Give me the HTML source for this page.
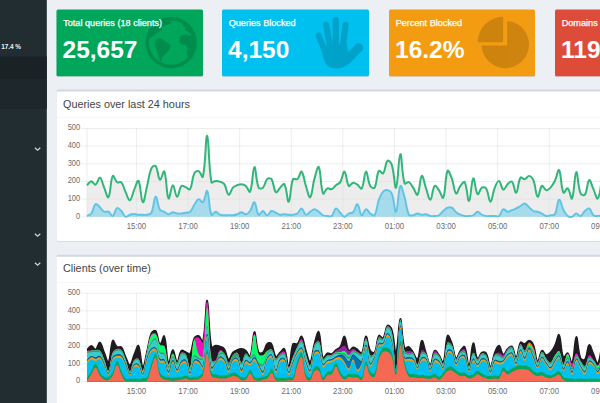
<!DOCTYPE html>
<html>
<head>
<meta charset="utf-8">
<title>Pi-hole Admin Console</title>
<style>
html,body{margin:0;padding:0;}
body{width:600px;height:403px;overflow:hidden;position:relative;background:#ecf0f5;font-family:"Liberation Sans",sans-serif;}
.sidebar{position:absolute;left:0;top:0;width:47px;height:403px;}
.sb-head{position:absolute;left:0;top:57px;width:47px;height:23px;}
.sb-act{position:absolute;left:0;top:80px;width:47px;height:29px;}
.sb-txt{position:absolute;left:1.2px;top:42px;font-size:6.4px;font-weight:bold;color:#f4f4f4;line-height:9px;white-space:nowrap;letter-spacing:-0.05px;}
.chev{position:absolute;left:33px;width:9px;height:6px;}
.box{position:absolute;top:9px;height:67.5px;width:146.5px;color:#fff;overflow:hidden;background:none !important;}
.box p{position:absolute;left:6.7px;top:8.5px;margin:0;font-size:9.15px;line-height:11px;white-space:nowrap;-webkit-text-stroke:0.25px #fff;}
.box h3{position:absolute;left:6px;top:26.5px;margin:0;font-size:24.5px;line-height:28px;font-weight:bold;white-space:nowrap;transform-origin:0 50%;}
.box svg{position:absolute;left:0;top:0;}
.panel{position:absolute;left:56.5px;width:560px;border-top:2px solid transparent;}
.panel .hd{height:25px;position:relative;}
.panel .hd span{position:absolute;left:6.8px;top:6.3px;font-size:11.3px;line-height:13px;color:#444;white-space:nowrap;transform:scaleX(0.958);transform-origin:0 50%;}
.charts{position:absolute;left:0;top:0;}
</style>
</head>
<body>
<svg class="bgl" width="600" height="403" viewBox="0 0 600 403" style="position:absolute;left:0;top:0">
  <rect x="0" y="0" width="46.8" height="403" fill="#222d32"/>
  <rect x="0" y="56.5" width="46.8" height="23" fill="#1a2226"/>
  <rect x="0" y="79.5" width="46.8" height="29.3" fill="#1e282c"/>
  <g>
    <rect x="56.5" y="10.3" width="146.5" height="66.6" rx="1.5" fill="#000" fill-opacity="0.1"/>
    <rect x="222" y="10.3" width="147" height="66.6" rx="1.5" fill="#000" fill-opacity="0.1"/>
    <rect x="389" y="10.3" width="146" height="66.6" rx="1.5" fill="#000" fill-opacity="0.1"/>
    <rect x="555" y="10.3" width="146" height="66.6" rx="1.5" fill="#000" fill-opacity="0.1"/>
    <rect x="56.5" y="9.5" width="146.5" height="66.7" rx="1.5" fill="#00a65a"/>
    <rect x="222" y="9.5" width="147" height="66.7" rx="1.5" fill="#00c0ef"/>
    <rect x="389" y="9.5" width="146" height="66.7" rx="1.5" fill="#f39c12"/>
    <rect x="555" y="9.5" width="146" height="66.7" rx="1.5" fill="#dd4b39"/>
  </g>
  <g>
    <rect x="56.5" y="90" width="600" height="151.8" rx="2" fill="#000" fill-opacity="0.1"/>
    <rect x="56.5" y="89.5" width="600" height="151.5" rx="2" fill="#d2d6de"/>
    <path d="M56.5 91.5 H660 V241 H58.5 a2 2 0 0 1 -2 -2 Z" fill="#fff"/>
    <rect x="56.5" y="116.8" width="600" height="0.8" fill="#f4f4f4"/>
    <rect x="56.5" y="254.7" width="600" height="160" rx="2" fill="#d2d6de"/>
    <path d="M56.5 256.7 H660 V420 H56.5 Z" fill="#fff"/>
    <rect x="56.5" y="282" width="600" height="0.8" fill="#f4f4f4"/>
  </g>
</svg>
<div class="sidebar">
  <div class="sb-head"></div>
  <div class="sb-act"></div>
  <div class="sb-txt">17.4 %</div>
  <svg class="chev" style="top:146px" viewBox="0 0 9 6"><path d="M1.9 1.7 L4.6 4.2 L7.3 1.7" fill="none" stroke="#dfe9f0" stroke-width="1.2" stroke-opacity="0.9"/></svg>
  <svg class="chev" style="top:232px" viewBox="0 0 9 6"><path d="M1.9 1.7 L4.6 4.2 L7.3 1.7" fill="none" stroke="#dfe9f0" stroke-width="1.2" stroke-opacity="0.9"/></svg>
  <svg class="chev" style="top:261px" viewBox="0 0 9 6"><path d="M1.9 1.7 L4.6 4.2 L7.3 1.7" fill="none" stroke="#dfe9f0" stroke-width="1.2" stroke-opacity="0.9"/></svg>
</div>

<div class="box" style="left:56px;background:#00a65a;">
  <svg width="146" height="66" viewBox="56 9 146 66">
    <g opacity="0.15" fill="#000">
      <path fill-rule="evenodd" d="M171.2 17.0 a25.6 25.6 0 1 0 0.01 0 Z M171.2 20.4 a22.2 22.2 0 1 1 -0.01 0 Z"/>
      <path d="M155.5 40.2 L158.5 38 L162.3 38.7 L165.3 41.7 L169.8 44 L170.5 47.7 L167.5 52.2 L164.5 54.5 L162.3 57.5 L160.8 61.5 L159.2 59.7 L157.7 53 L155.5 47 L154.7 43.2 Z"/>
      <path d="M181.8 35 L179.5 38 L179.2 41.7 L181.8 44.7 L185.8 44.7 L187.7 48.5 L186.7 53 L188.2 58.5 L192 54 L194.5 47 L194.5 38 L193 34.5 L190 35.7 L185.5 34.2 Z"/>
      <path d="M182.5 25.5 L185.8 27.5 L184.7 30.2 L187.7 31.5 L191.5 34.7 L193.5 35 L190 27 L185 22.5 Z"/>
      <path d="M150.5 38 L154 35.7 L156.2 33.2 L159.2 32 L162.2 29 L160.7 27.2 L165.2 25.2 L169.3 24.2 L172 22.2 L167.5 19.5 L160 21 L153 27 L149.5 34 Z"/>
    </g>
  </svg>
  <p style="left:7.2px">Total queries (18 clients)</p>
  <h3 style="left:6.5px">25,657</h3>
</div>
<div class="box" style="left:222px;width:147px;background:#00c0ef;">
  <svg width="146" height="66" viewBox="222 9 146 66"><g opacity="0.15" fill="#000" stroke="#000" stroke-linecap="round" stroke-linejoin="round">
      <path d="M318.7 35.6 L325.5 53" stroke-width="6" fill="none"/>
      <path d="M326.2 24.6 L330.2 48" stroke-width="6.2" fill="none"/>
      <path d="M335.8 20.1 L335.8 48" stroke-width="6.3" fill="none"/>
      <path d="M345.6 24.8 L342.6 48" stroke-width="6.2" fill="none"/>
      <path d="M358.6 47.8 L346.5 60" stroke-width="9" fill="none"/>
      <path d="M323 46 L346 44 L347.5 52 L352 58 C347.5 64.5 343.5 67.8 336 67.8 C327 67.8 324.5 61 322.8 52 Z" stroke-width="1.5"/>
    </g></svg>
  <p>Queries Blocked</p>
  <h3>4,150</h3>
</div>
<div class="box" style="left:389px;width:146px;background:#f39c12;">
  <svg width="146" height="66" viewBox="389 9 146 66">
    <g fill="#000" opacity="0.15">
      <path d="M507.2 45.5 L507.2 20.88 A23.7 23.7 0 1 1 481.62 45.5 Z"/>
      <path d="M503.2 42.2 L477.7 42.2 A25.5 25.5 0 0 1 503.2 16.7 Z"/>
    </g>
  </svg>
  <p>Percent Blocked</p>
  <h3>16.2%</h3>
</div>
<div class="box" style="left:555px;background:#dd4b39;">
  <p>Domains on Blocklist</p>
  <h3>119,</h3>
</div>

<div class="panel" style="top:89.5px;height:149.5px;">
  <div class="hd"><span>Queries over last 24 hours</span></div>
</div>
<div class="panel" style="top:254.7px;height:160px;">
  <div class="hd"><span style="top:5.3px">Clients (over time)</span></div>
</div>

<svg class="charts" width="600" height="403" viewBox="0 0 600 403"><defs><clipPath id="cp1"><rect x="86.3" y="120" width="520" height="97"/></clipPath><clipPath id="cp2"><rect x="86.6" y="285" width="520" height="96.8"/></clipPath></defs><g stroke="#000" stroke-opacity="0.1" stroke-width="0.7" shape-rendering="auto"><line x1="81" x2="610" y1="216.80" y2="216.80"/><line x1="81" x2="610" y1="199.14" y2="199.14"/><line x1="81" x2="610" y1="181.48" y2="181.48"/><line x1="81" x2="610" y1="163.82" y2="163.82"/><line x1="81" x2="610" y1="146.16" y2="146.16"/><line x1="81" x2="610" y1="128.50" y2="128.50"/><line x1="87" x2="87" y1="128.50" y2="216.80"/><line x1="136.45" x2="136.45" y1="128.50" y2="222.80"/><line x1="188.05" x2="188.05" y1="128.50" y2="222.80"/><line x1="239.65" x2="239.65" y1="128.50" y2="222.80"/><line x1="291.25" x2="291.25" y1="128.50" y2="222.80"/><line x1="342.85" x2="342.85" y1="128.50" y2="222.80"/><line x1="394.45" x2="394.45" y1="128.50" y2="222.80"/><line x1="446.05" x2="446.05" y1="128.50" y2="222.80"/><line x1="497.65" x2="497.65" y1="128.50" y2="222.80"/><line x1="549.25" x2="549.25" y1="128.50" y2="222.80"/><line x1="600.85" x2="600.85" y1="128.50" y2="222.80"/></g><path d="M87.00,185.16 C88.72,183.55 89.53,181.25 91.29,181.15 C92.96,181.05 94.20,185.22 95.58,184.66 C97.64,183.82 98.40,177.12 99.88,177.64 C101.83,178.32 102.41,183.67 104.17,187.66 C105.85,191.49 107.35,198.72 108.46,197.19 C110.78,194.01 110.21,180.34 112.75,175.88 C113.64,174.33 114.85,180.49 117.04,182.15 C118.29,183.09 120.35,181.25 121.34,182.40 C123.78,185.26 123.77,188.33 125.63,192.18 C127.21,195.45 128.39,200.64 129.92,200.20 C131.83,199.64 132.37,193.82 134.21,189.67 C135.80,186.10 137.44,179.34 138.50,180.90 C140.87,184.36 140.86,201.07 142.80,202.20 C144.30,203.08 145.43,192.44 147.09,185.91 C148.86,178.91 148.67,174.61 151.38,168.37 C152.11,166.69 154.80,164.96 155.67,166.11 C158.23,169.47 157.89,178.37 159.96,179.64 C161.32,180.48 163.38,169.47 164.26,171.37 C166.82,176.98 166.27,194.79 168.55,198.44 C169.71,200.30 171.01,185.53 172.84,185.16 C174.45,184.83 175.36,196.53 177.13,196.69 C178.80,196.83 178.95,188.66 181.42,185.91 C182.38,184.85 184.05,186.53 185.72,187.16 C187.48,187.83 189.24,190.41 190.01,189.17 C192.67,184.89 191.65,178.95 194.30,173.38 C195.08,171.73 197.19,170.59 198.59,171.12 C200.62,171.89 202.38,178.69 202.88,176.64 C205.82,164.56 205.57,134.75 207.18,135.78 C209.00,136.96 208.34,165.69 211.47,182.15 C211.77,183.73 214.02,181.00 215.76,180.90 C217.45,180.80 218.45,181.04 220.05,181.65 C221.88,182.34 223.30,182.57 224.34,184.16 C226.73,187.78 226.64,193.87 228.64,194.68 C230.08,195.27 230.79,190.04 232.93,187.66 C234.22,186.23 235.40,185.90 237.22,185.16 C238.83,184.50 239.84,184.01 241.51,184.16 C243.27,184.31 244.46,184.73 245.80,185.91 C247.89,187.74 249.33,193.36 250.10,191.67 C252.76,185.84 252.52,167.98 254.39,167.11 C255.96,166.38 255.83,180.84 258.68,187.66 C259.26,189.06 261.92,188.74 262.97,187.66 C265.36,185.23 264.88,181.26 267.26,178.89 C268.31,177.85 270.74,177.88 271.56,179.14 C274.17,183.19 273.49,189.83 275.85,192.18 C276.92,193.24 278.32,189.36 280.14,187.66 C281.76,186.15 283.63,182.84 284.43,184.16 C287.06,188.45 287.21,202.58 288.72,201.70 C290.65,200.58 290.12,186.74 293.02,179.14 C293.56,177.72 296.17,180.14 297.31,179.14 C299.60,177.13 300.34,170.63 301.60,171.62 C303.77,173.34 303.99,180.26 305.89,185.91 C307.43,190.48 308.86,198.35 310.18,197.19 C312.30,195.34 312.36,185.79 314.48,178.39 C315.80,173.76 317.70,165.24 318.77,167.11 C321.13,171.25 320.31,186.60 323.06,193.43 C323.74,195.12 325.28,189.44 327.35,188.42 C328.72,187.74 330.18,189.72 331.64,189.17 C333.62,188.42 334.12,186.64 335.94,185.16 C337.56,183.83 339.14,183.86 340.23,182.15 C342.58,178.45 343.03,170.97 344.52,171.62 C346.47,172.48 346.29,182.67 348.81,185.91 C349.72,187.08 351.28,182.92 353.10,182.65 C354.71,182.42 355.84,183.61 357.40,184.66 C359.27,185.92 360.84,189.71 361.69,188.42 C364.27,184.49 364.13,172.16 365.98,171.62 C367.57,171.16 367.65,181.02 370.27,185.91 C371.09,187.43 373.84,188.93 374.56,187.66 C377.27,182.92 376.19,175.31 378.86,170.87 C379.62,169.60 382.21,174.47 383.15,173.38 C385.64,170.46 385.04,163.30 387.44,160.85 C388.47,159.79 391.06,162.51 391.73,164.61 C394.49,173.23 394.62,189.39 396.02,187.66 C398.05,185.18 398.49,154.99 400.32,154.08 C401.92,153.28 401.62,173.65 404.61,183.40 C405.06,184.88 407.56,181.49 408.90,182.15 C410.99,183.19 411.61,185.36 413.19,187.66 C415.05,190.37 416.46,196.09 417.48,194.68 C419.89,191.38 419.74,177.37 421.78,175.88 C423.17,174.86 424.27,183.43 426.07,188.42 C427.70,192.96 428.80,200.15 430.36,199.69 C432.23,199.15 432.23,188.59 434.65,185.91 C435.67,184.79 437.53,188.23 438.94,190.17 C440.97,192.94 442.41,199.56 443.24,197.69 C445.84,191.84 444.92,176.73 447.53,170.87 C448.36,169.01 450.60,175.18 451.82,178.39 C454.03,184.20 453.90,191.49 456.11,193.43 C457.34,194.50 458.33,188.63 460.40,185.91 C461.77,184.12 463.91,180.78 464.70,182.15 C467.35,186.79 467.42,201.63 468.99,200.95 C470.85,200.13 471.28,179.97 473.28,178.39 C474.71,177.26 475.25,191.67 477.57,194.18 C478.68,195.38 479.66,189.14 481.86,187.66 C483.09,186.84 485.34,187.08 486.16,188.42 C488.77,192.69 488.77,201.85 490.45,201.70 C492.21,201.55 492.52,193.05 494.74,187.66 C495.95,184.73 497.48,180.54 499.03,180.90 C500.92,181.34 501.32,188.91 503.32,189.67 C504.76,190.21 505.61,186.03 507.62,184.16 C509.04,182.82 510.89,180.64 511.91,181.65 C514.33,184.05 514.72,193.37 516.20,192.68 C518.15,191.76 517.83,181.83 520.49,177.64 C521.27,176.42 523.21,179.46 524.78,179.14 C526.65,178.76 527.46,175.70 529.08,175.88 C530.89,176.10 532.47,177.97 533.37,180.15 C535.90,186.29 535.61,195.31 537.66,196.69 C539.05,197.62 539.70,187.62 541.95,185.91 C543.13,185.02 544.36,189.79 546.24,190.17 C547.79,190.49 549.22,189.08 550.54,187.66 C552.66,185.37 553.43,183.76 554.83,180.90 C556.86,176.75 557.97,168.54 559.12,170.12 C561.40,173.25 560.69,186.88 563.41,192.68 C564.13,194.20 566.48,187.59 567.70,188.42 C569.91,189.90 571.00,200.33 572.00,198.44 C574.43,193.82 574.40,173.23 576.29,172.13 C577.83,171.22 577.73,185.95 580.58,193.43 C581.17,194.97 584.09,195.89 584.87,194.68 C587.52,190.58 587.09,181.47 589.16,180.15 C590.53,179.27 591.76,185.55 593.46,189.17 C595.19,192.87 596.56,199.76 597.75,198.44 C599.99,195.95 600.32,187.16 602.04,179.64 L602.04,216.80 L87.00,216.80 Z" fill="rgba(220,220,220,0.5)"/><path d="M87.00,185.16 C88.72,183.55 89.53,181.25 91.29,181.15 C92.96,181.05 94.20,185.22 95.58,184.66 C97.64,183.82 98.40,177.12 99.88,177.64 C101.83,178.32 102.41,183.67 104.17,187.66 C105.85,191.49 107.35,198.72 108.46,197.19 C110.78,194.01 110.21,180.34 112.75,175.88 C113.64,174.33 114.85,180.49 117.04,182.15 C118.29,183.09 120.35,181.25 121.34,182.40 C123.78,185.26 123.77,188.33 125.63,192.18 C127.21,195.45 128.39,200.64 129.92,200.20 C131.83,199.64 132.37,193.82 134.21,189.67 C135.80,186.10 137.44,179.34 138.50,180.90 C140.87,184.36 140.86,201.07 142.80,202.20 C144.30,203.08 145.43,192.44 147.09,185.91 C148.86,178.91 148.67,174.61 151.38,168.37 C152.11,166.69 154.80,164.96 155.67,166.11 C158.23,169.47 157.89,178.37 159.96,179.64 C161.32,180.48 163.38,169.47 164.26,171.37 C166.82,176.98 166.27,194.79 168.55,198.44 C169.71,200.30 171.01,185.53 172.84,185.16 C174.45,184.83 175.36,196.53 177.13,196.69 C178.80,196.83 178.95,188.66 181.42,185.91 C182.38,184.85 184.05,186.53 185.72,187.16 C187.48,187.83 189.24,190.41 190.01,189.17 C192.67,184.89 191.65,178.95 194.30,173.38 C195.08,171.73 197.19,170.59 198.59,171.12 C200.62,171.89 202.38,178.69 202.88,176.64 C205.82,164.56 205.57,134.75 207.18,135.78 C209.00,136.96 208.34,165.69 211.47,182.15 C211.77,183.73 214.02,181.00 215.76,180.90 C217.45,180.80 218.45,181.04 220.05,181.65 C221.88,182.34 223.30,182.57 224.34,184.16 C226.73,187.78 226.64,193.87 228.64,194.68 C230.08,195.27 230.79,190.04 232.93,187.66 C234.22,186.23 235.40,185.90 237.22,185.16 C238.83,184.50 239.84,184.01 241.51,184.16 C243.27,184.31 244.46,184.73 245.80,185.91 C247.89,187.74 249.33,193.36 250.10,191.67 C252.76,185.84 252.52,167.98 254.39,167.11 C255.96,166.38 255.83,180.84 258.68,187.66 C259.26,189.06 261.92,188.74 262.97,187.66 C265.36,185.23 264.88,181.26 267.26,178.89 C268.31,177.85 270.74,177.88 271.56,179.14 C274.17,183.19 273.49,189.83 275.85,192.18 C276.92,193.24 278.32,189.36 280.14,187.66 C281.76,186.15 283.63,182.84 284.43,184.16 C287.06,188.45 287.21,202.58 288.72,201.70 C290.65,200.58 290.12,186.74 293.02,179.14 C293.56,177.72 296.17,180.14 297.31,179.14 C299.60,177.13 300.34,170.63 301.60,171.62 C303.77,173.34 303.99,180.26 305.89,185.91 C307.43,190.48 308.86,198.35 310.18,197.19 C312.30,195.34 312.36,185.79 314.48,178.39 C315.80,173.76 317.70,165.24 318.77,167.11 C321.13,171.25 320.31,186.60 323.06,193.43 C323.74,195.12 325.28,189.44 327.35,188.42 C328.72,187.74 330.18,189.72 331.64,189.17 C333.62,188.42 334.12,186.64 335.94,185.16 C337.56,183.83 339.14,183.86 340.23,182.15 C342.58,178.45 343.03,170.97 344.52,171.62 C346.47,172.48 346.29,182.67 348.81,185.91 C349.72,187.08 351.28,182.92 353.10,182.65 C354.71,182.42 355.84,183.61 357.40,184.66 C359.27,185.92 360.84,189.71 361.69,188.42 C364.27,184.49 364.13,172.16 365.98,171.62 C367.57,171.16 367.65,181.02 370.27,185.91 C371.09,187.43 373.84,188.93 374.56,187.66 C377.27,182.92 376.19,175.31 378.86,170.87 C379.62,169.60 382.21,174.47 383.15,173.38 C385.64,170.46 385.04,163.30 387.44,160.85 C388.47,159.79 391.06,162.51 391.73,164.61 C394.49,173.23 394.62,189.39 396.02,187.66 C398.05,185.18 398.49,154.99 400.32,154.08 C401.92,153.28 401.62,173.65 404.61,183.40 C405.06,184.88 407.56,181.49 408.90,182.15 C410.99,183.19 411.61,185.36 413.19,187.66 C415.05,190.37 416.46,196.09 417.48,194.68 C419.89,191.38 419.74,177.37 421.78,175.88 C423.17,174.86 424.27,183.43 426.07,188.42 C427.70,192.96 428.80,200.15 430.36,199.69 C432.23,199.15 432.23,188.59 434.65,185.91 C435.67,184.79 437.53,188.23 438.94,190.17 C440.97,192.94 442.41,199.56 443.24,197.69 C445.84,191.84 444.92,176.73 447.53,170.87 C448.36,169.01 450.60,175.18 451.82,178.39 C454.03,184.20 453.90,191.49 456.11,193.43 C457.34,194.50 458.33,188.63 460.40,185.91 C461.77,184.12 463.91,180.78 464.70,182.15 C467.35,186.79 467.42,201.63 468.99,200.95 C470.85,200.13 471.28,179.97 473.28,178.39 C474.71,177.26 475.25,191.67 477.57,194.18 C478.68,195.38 479.66,189.14 481.86,187.66 C483.09,186.84 485.34,187.08 486.16,188.42 C488.77,192.69 488.77,201.85 490.45,201.70 C492.21,201.55 492.52,193.05 494.74,187.66 C495.95,184.73 497.48,180.54 499.03,180.90 C500.92,181.34 501.32,188.91 503.32,189.67 C504.76,190.21 505.61,186.03 507.62,184.16 C509.04,182.82 510.89,180.64 511.91,181.65 C514.33,184.05 514.72,193.37 516.20,192.68 C518.15,191.76 517.83,181.83 520.49,177.64 C521.27,176.42 523.21,179.46 524.78,179.14 C526.65,178.76 527.46,175.70 529.08,175.88 C530.89,176.10 532.47,177.97 533.37,180.15 C535.90,186.29 535.61,195.31 537.66,196.69 C539.05,197.62 539.70,187.62 541.95,185.91 C543.13,185.02 544.36,189.79 546.24,190.17 C547.79,190.49 549.22,189.08 550.54,187.66 C552.66,185.37 553.43,183.76 554.83,180.90 C556.86,176.75 557.97,168.54 559.12,170.12 C561.40,173.25 560.69,186.88 563.41,192.68 C564.13,194.20 566.48,187.59 567.70,188.42 C569.91,189.90 571.00,200.33 572.00,198.44 C574.43,193.82 574.40,173.23 576.29,172.13 C577.83,171.22 577.73,185.95 580.58,193.43 C581.17,194.97 584.09,195.89 584.87,194.68 C587.52,190.58 587.09,181.47 589.16,180.15 C590.53,179.27 591.76,185.55 593.46,189.17 C595.19,192.87 596.56,199.76 597.75,198.44 C599.99,195.95 600.32,187.16 602.04,179.64" fill="none" stroke="rgba(0,166,90,0.8)" stroke-width="2.0" stroke-linejoin="round"/><path d="M87.00,215.98 C88.72,214.98 90.19,215.03 91.29,213.48 C93.62,210.22 93.32,205.61 95.58,203.95 C96.75,203.10 98.28,205.77 99.88,207.21 C101.72,208.88 102.14,210.66 104.17,211.72 C105.57,212.46 107.03,211.02 108.46,211.72 C110.47,212.72 111.38,216.59 112.75,215.98 C114.81,215.08 114.87,209.24 117.04,207.96 C118.30,207.23 119.89,209.49 121.34,210.97 C123.33,213.02 123.56,215.89 125.63,216.80 C126.99,217.40 128.13,215.32 129.92,214.73 C131.56,214.19 132.50,213.98 134.21,213.98 C135.93,213.98 136.77,214.58 138.50,214.73 C140.21,214.88 141.08,214.73 142.80,214.73 C144.51,214.73 145.46,215.11 147.09,214.73 C148.89,214.31 150.62,214.33 151.38,212.73 C154.05,207.11 153.79,197.35 155.67,196.69 C157.23,196.14 157.41,205.25 159.96,209.72 C160.85,211.26 162.58,210.84 164.26,211.72 C166.01,212.65 166.79,214.13 168.55,214.23 C170.22,214.33 171.07,212.38 172.84,212.23 C174.51,212.08 175.38,213.22 177.13,213.48 C178.81,213.72 179.72,213.63 181.42,213.48 C183.15,213.33 184.01,213.08 185.72,212.73 C187.44,212.37 188.81,212.84 190.01,211.72 C192.24,209.64 192.44,207.42 194.30,204.71 C195.88,202.40 196.63,199.77 198.59,199.19 C200.06,198.76 201.84,203.20 202.88,202.20 C205.28,199.89 206.03,189.25 207.18,190.92 C209.47,194.27 208.65,207.89 211.47,214.73 C212.08,216.21 214.04,211.72 215.76,211.72 C217.48,211.72 218.17,213.96 220.05,214.73 C221.60,215.37 222.62,215.13 224.34,215.23 C226.05,215.33 226.92,215.23 228.64,215.23 C230.35,215.23 231.23,215.43 232.93,215.23 C234.67,215.03 235.57,214.81 237.22,214.23 C239.00,213.61 239.80,212.23 241.51,212.23 C243.23,212.23 244.20,214.47 245.80,214.23 C247.63,213.96 248.88,212.68 250.10,210.97 C252.31,207.87 252.93,201.56 254.39,202.20 C256.36,203.07 256.28,212.28 258.68,214.73 C259.71,215.79 261.31,210.88 262.97,210.97 C264.74,211.08 265.55,215.23 267.26,215.23 C268.98,215.23 269.61,211.54 271.56,210.97 C273.05,210.54 274.15,211.98 275.85,212.73 C277.58,213.49 278.34,214.42 280.14,214.73 C281.78,215.02 282.72,214.23 284.43,214.23 C286.15,214.23 287.00,214.63 288.72,214.73 C290.43,214.83 291.33,214.98 293.02,214.73 C294.77,214.48 295.92,214.49 297.31,213.48 C299.35,211.98 300.00,208.23 301.60,208.47 C303.44,208.73 303.86,213.96 305.89,214.73 C307.29,215.26 308.42,212.86 310.18,211.72 C311.86,210.65 312.76,209.22 314.48,209.22 C316.19,209.22 317.14,210.59 318.77,211.72 C320.58,212.99 321.14,214.28 323.06,215.23 C324.57,215.98 325.62,215.83 327.35,215.98 C329.06,216.13 330.51,216.98 331.64,215.98 C333.94,213.97 333.91,209.23 335.94,208.47 C337.35,207.93 338.49,211.05 340.23,212.73 C341.92,214.36 342.73,216.58 344.52,216.74 C346.16,216.88 346.94,214.46 348.81,213.48 C350.37,212.66 351.97,213.45 353.10,212.23 C355.41,209.74 355.90,203.68 357.40,204.21 C359.34,204.89 359.57,214.00 361.69,215.23 C363.01,216.00 364.09,209.60 365.98,209.22 C367.53,208.90 368.33,212.12 370.27,213.48 C371.76,214.52 373.80,216.46 374.56,215.23 C377.23,210.95 376.66,205.72 378.86,199.69 C380.09,196.29 380.86,194.21 383.15,191.67 C384.29,190.40 385.87,189.85 387.44,190.17 C389.30,190.55 390.97,191.51 391.73,193.43 C394.40,200.13 394.59,212.98 396.02,211.72 C398.02,209.97 397.97,189.89 400.32,185.91 C401.40,184.07 403.23,192.57 404.61,197.19 C406.67,204.10 406.13,208.91 408.90,214.73 C409.56,216.13 411.54,215.47 413.19,215.23 C414.97,214.97 415.74,213.58 417.48,213.48 C419.17,213.38 420.03,214.58 421.78,214.73 C423.46,214.88 424.41,213.99 426.07,214.23 C427.85,214.49 428.58,215.62 430.36,215.98 C432.01,216.32 432.95,216.13 434.65,215.98 C436.38,215.83 437.51,216.07 438.94,215.23 C440.94,214.07 441.42,212.56 443.24,210.97 C444.85,209.56 445.62,208.44 447.53,207.71 C449.05,207.14 450.42,206.98 451.82,207.71 C453.85,208.78 454.20,210.66 456.11,212.23 C457.64,213.47 458.60,213.94 460.40,214.73 C462.03,215.44 462.94,215.73 464.70,215.98 C466.38,216.23 467.28,216.13 468.99,215.98 C470.72,215.83 471.77,215.98 473.28,215.23 C475.20,214.28 475.81,211.83 477.57,211.72 C479.24,211.63 480.01,213.81 481.86,214.73 C483.44,215.52 484.40,215.73 486.16,215.98 C487.84,216.23 488.73,215.98 490.45,215.98 C492.16,215.98 493.02,215.98 494.74,215.98 C496.46,215.98 497.83,216.93 499.03,215.98 C501.27,214.22 501.20,210.27 503.32,209.22 C504.64,208.57 505.82,211.51 507.62,211.72 C509.26,211.92 510.21,210.87 511.91,210.22 C513.64,209.56 514.54,209.29 516.20,208.47 C517.98,207.58 518.78,206.96 520.49,205.96 C522.21,204.96 523.19,203.22 524.78,203.45 C526.62,203.72 527.36,205.71 529.08,207.21 C530.79,208.72 531.42,209.95 533.37,210.97 C534.85,211.75 536.00,211.24 537.66,211.72 C539.43,212.24 540.29,212.66 541.95,213.48 C543.73,214.36 544.41,215.61 546.24,215.98 C547.85,216.31 548.83,215.58 550.54,215.23 C552.26,214.88 554.05,215.63 554.83,214.23 C557.49,209.42 557.12,200.74 559.12,199.69 C560.56,198.94 561.39,205.88 563.41,209.72 C564.82,212.39 565.52,214.20 567.70,215.98 C568.96,217.01 570.46,217.19 572.00,216.74 C573.89,216.18 574.50,213.64 576.29,213.48 C577.94,213.33 579.10,216.42 580.58,215.98 C582.54,215.41 582.91,212.69 584.87,210.97 C586.35,209.68 587.85,207.81 589.16,208.47 C591.28,209.52 591.23,213.28 593.46,215.23 C594.67,216.29 596.05,216.08 597.75,215.98 C599.49,215.88 600.32,215.23 602.04,214.73 L602.04,216.80 L87.00,216.80 Z" fill="rgba(0,180,232,0.3)"/><path d="M87.00,215.98 C88.72,214.98 90.19,215.03 91.29,213.48 C93.62,210.22 93.32,205.61 95.58,203.95 C96.75,203.10 98.28,205.77 99.88,207.21 C101.72,208.88 102.14,210.66 104.17,211.72 C105.57,212.46 107.03,211.02 108.46,211.72 C110.47,212.72 111.38,216.59 112.75,215.98 C114.81,215.08 114.87,209.24 117.04,207.96 C118.30,207.23 119.89,209.49 121.34,210.97 C123.33,213.02 123.56,215.89 125.63,216.80 C126.99,217.40 128.13,215.32 129.92,214.73 C131.56,214.19 132.50,213.98 134.21,213.98 C135.93,213.98 136.77,214.58 138.50,214.73 C140.21,214.88 141.08,214.73 142.80,214.73 C144.51,214.73 145.46,215.11 147.09,214.73 C148.89,214.31 150.62,214.33 151.38,212.73 C154.05,207.11 153.79,197.35 155.67,196.69 C157.23,196.14 157.41,205.25 159.96,209.72 C160.85,211.26 162.58,210.84 164.26,211.72 C166.01,212.65 166.79,214.13 168.55,214.23 C170.22,214.33 171.07,212.38 172.84,212.23 C174.51,212.08 175.38,213.22 177.13,213.48 C178.81,213.72 179.72,213.63 181.42,213.48 C183.15,213.33 184.01,213.08 185.72,212.73 C187.44,212.37 188.81,212.84 190.01,211.72 C192.24,209.64 192.44,207.42 194.30,204.71 C195.88,202.40 196.63,199.77 198.59,199.19 C200.06,198.76 201.84,203.20 202.88,202.20 C205.28,199.89 206.03,189.25 207.18,190.92 C209.47,194.27 208.65,207.89 211.47,214.73 C212.08,216.21 214.04,211.72 215.76,211.72 C217.48,211.72 218.17,213.96 220.05,214.73 C221.60,215.37 222.62,215.13 224.34,215.23 C226.05,215.33 226.92,215.23 228.64,215.23 C230.35,215.23 231.23,215.43 232.93,215.23 C234.67,215.03 235.57,214.81 237.22,214.23 C239.00,213.61 239.80,212.23 241.51,212.23 C243.23,212.23 244.20,214.47 245.80,214.23 C247.63,213.96 248.88,212.68 250.10,210.97 C252.31,207.87 252.93,201.56 254.39,202.20 C256.36,203.07 256.28,212.28 258.68,214.73 C259.71,215.79 261.31,210.88 262.97,210.97 C264.74,211.08 265.55,215.23 267.26,215.23 C268.98,215.23 269.61,211.54 271.56,210.97 C273.05,210.54 274.15,211.98 275.85,212.73 C277.58,213.49 278.34,214.42 280.14,214.73 C281.78,215.02 282.72,214.23 284.43,214.23 C286.15,214.23 287.00,214.63 288.72,214.73 C290.43,214.83 291.33,214.98 293.02,214.73 C294.77,214.48 295.92,214.49 297.31,213.48 C299.35,211.98 300.00,208.23 301.60,208.47 C303.44,208.73 303.86,213.96 305.89,214.73 C307.29,215.26 308.42,212.86 310.18,211.72 C311.86,210.65 312.76,209.22 314.48,209.22 C316.19,209.22 317.14,210.59 318.77,211.72 C320.58,212.99 321.14,214.28 323.06,215.23 C324.57,215.98 325.62,215.83 327.35,215.98 C329.06,216.13 330.51,216.98 331.64,215.98 C333.94,213.97 333.91,209.23 335.94,208.47 C337.35,207.93 338.49,211.05 340.23,212.73 C341.92,214.36 342.73,216.58 344.52,216.74 C346.16,216.88 346.94,214.46 348.81,213.48 C350.37,212.66 351.97,213.45 353.10,212.23 C355.41,209.74 355.90,203.68 357.40,204.21 C359.34,204.89 359.57,214.00 361.69,215.23 C363.01,216.00 364.09,209.60 365.98,209.22 C367.53,208.90 368.33,212.12 370.27,213.48 C371.76,214.52 373.80,216.46 374.56,215.23 C377.23,210.95 376.66,205.72 378.86,199.69 C380.09,196.29 380.86,194.21 383.15,191.67 C384.29,190.40 385.87,189.85 387.44,190.17 C389.30,190.55 390.97,191.51 391.73,193.43 C394.40,200.13 394.59,212.98 396.02,211.72 C398.02,209.97 397.97,189.89 400.32,185.91 C401.40,184.07 403.23,192.57 404.61,197.19 C406.67,204.10 406.13,208.91 408.90,214.73 C409.56,216.13 411.54,215.47 413.19,215.23 C414.97,214.97 415.74,213.58 417.48,213.48 C419.17,213.38 420.03,214.58 421.78,214.73 C423.46,214.88 424.41,213.99 426.07,214.23 C427.85,214.49 428.58,215.62 430.36,215.98 C432.01,216.32 432.95,216.13 434.65,215.98 C436.38,215.83 437.51,216.07 438.94,215.23 C440.94,214.07 441.42,212.56 443.24,210.97 C444.85,209.56 445.62,208.44 447.53,207.71 C449.05,207.14 450.42,206.98 451.82,207.71 C453.85,208.78 454.20,210.66 456.11,212.23 C457.64,213.47 458.60,213.94 460.40,214.73 C462.03,215.44 462.94,215.73 464.70,215.98 C466.38,216.23 467.28,216.13 468.99,215.98 C470.72,215.83 471.77,215.98 473.28,215.23 C475.20,214.28 475.81,211.83 477.57,211.72 C479.24,211.63 480.01,213.81 481.86,214.73 C483.44,215.52 484.40,215.73 486.16,215.98 C487.84,216.23 488.73,215.98 490.45,215.98 C492.16,215.98 493.02,215.98 494.74,215.98 C496.46,215.98 497.83,216.93 499.03,215.98 C501.27,214.22 501.20,210.27 503.32,209.22 C504.64,208.57 505.82,211.51 507.62,211.72 C509.26,211.92 510.21,210.87 511.91,210.22 C513.64,209.56 514.54,209.29 516.20,208.47 C517.98,207.58 518.78,206.96 520.49,205.96 C522.21,204.96 523.19,203.22 524.78,203.45 C526.62,203.72 527.36,205.71 529.08,207.21 C530.79,208.72 531.42,209.95 533.37,210.97 C534.85,211.75 536.00,211.24 537.66,211.72 C539.43,212.24 540.29,212.66 541.95,213.48 C543.73,214.36 544.41,215.61 546.24,215.98 C547.85,216.31 548.83,215.58 550.54,215.23 C552.26,214.88 554.05,215.63 554.83,214.23 C557.49,209.42 557.12,200.74 559.12,199.69 C560.56,198.94 561.39,205.88 563.41,209.72 C564.82,212.39 565.52,214.20 567.70,215.98 C568.96,217.01 570.46,217.19 572.00,216.74 C573.89,216.18 574.50,213.64 576.29,213.48 C577.94,213.33 579.10,216.42 580.58,215.98 C582.54,215.41 582.91,212.69 584.87,210.97 C586.35,209.68 587.85,207.81 589.16,208.47 C591.28,209.52 591.23,213.28 593.46,215.23 C594.67,216.29 596.05,216.08 597.75,215.98 C599.49,215.88 600.32,215.23 602.04,214.73" fill="none" stroke="#58c2e6" stroke-opacity="0.95" stroke-width="1.9" stroke-linejoin="round"/><g font-family="Liberation Sans, sans-serif" font-size="8.1" fill="#6c6c6c"><text font-size="7.5" transform="translate(80.2,218.70) scale(1,1.17)" text-anchor="end">0</text><text font-size="7.5" transform="translate(80.2,201.04) scale(1,1.17)" text-anchor="end">100</text><text font-size="7.5" transform="translate(80.2,183.38) scale(1,1.17)" text-anchor="end">200</text><text font-size="7.5" transform="translate(80.2,165.72) scale(1,1.17)" text-anchor="end">300</text><text font-size="7.5" transform="translate(80.2,148.06) scale(1,1.17)" text-anchor="end">400</text><text font-size="7.5" transform="translate(80.2,130.40) scale(1,1.17)" text-anchor="end">500</text><text font-size="7.8" transform="translate(136.45,229.20) scale(1,1.16)" text-anchor="middle">15:00</text><text font-size="7.8" transform="translate(188.05,229.20) scale(1,1.16)" text-anchor="middle">17:00</text><text font-size="7.8" transform="translate(239.65,229.20) scale(1,1.16)" text-anchor="middle">19:00</text><text font-size="7.8" transform="translate(291.25,229.20) scale(1,1.16)" text-anchor="middle">21:00</text><text font-size="7.8" transform="translate(342.85,229.20) scale(1,1.16)" text-anchor="middle">23:00</text><text font-size="7.8" transform="translate(394.45,229.20) scale(1,1.16)" text-anchor="middle">01:00</text><text font-size="7.8" transform="translate(446.05,229.20) scale(1,1.16)" text-anchor="middle">03:00</text><text font-size="7.8" transform="translate(497.65,229.20) scale(1,1.16)" text-anchor="middle">05:00</text><text font-size="7.8" transform="translate(549.25,229.20) scale(1,1.16)" text-anchor="middle">07:00</text><text font-size="7.8" transform="translate(600.85,229.20) scale(1,1.16)" text-anchor="middle">09:00</text></g><g stroke="#000" stroke-opacity="0.1" stroke-width="0.7" shape-rendering="auto"><line x1="81" x2="610" y1="381.50" y2="381.50"/><line x1="81" x2="610" y1="363.84" y2="363.84"/><line x1="81" x2="610" y1="346.18" y2="346.18"/><line x1="81" x2="610" y1="328.52" y2="328.52"/><line x1="81" x2="610" y1="310.86" y2="310.86"/><line x1="81" x2="610" y1="293.20" y2="293.20"/><line x1="87" x2="87" y1="293.20" y2="381.50"/><line x1="136.45" x2="136.45" y1="293.20" y2="387.50"/><line x1="188.05" x2="188.05" y1="293.20" y2="387.50"/><line x1="239.65" x2="239.65" y1="293.20" y2="387.50"/><line x1="291.25" x2="291.25" y1="293.20" y2="387.50"/><line x1="342.85" x2="342.85" y1="293.20" y2="387.50"/><line x1="394.45" x2="394.45" y1="293.20" y2="387.50"/><line x1="446.05" x2="446.05" y1="293.20" y2="387.50"/><line x1="497.65" x2="497.65" y1="293.20" y2="387.50"/><line x1="549.25" x2="549.25" y1="293.20" y2="387.50"/><line x1="600.85" x2="600.85" y1="293.20" y2="387.50"/></g><g clip-path="url(#cp2)"><path d="M87.00,349.86 C88.72,348.25 89.53,345.95 91.29,345.85 C92.96,345.75 94.20,349.92 95.58,349.36 C97.64,348.52 98.40,341.82 99.88,342.34 C101.83,343.02 102.41,348.37 104.17,352.36 C105.85,356.19 107.35,363.42 108.46,361.89 C110.78,358.71 110.21,345.04 112.75,340.58 C113.64,339.03 114.85,345.19 117.04,346.85 C118.29,347.79 120.35,345.95 121.34,347.10 C123.78,349.96 123.77,353.03 125.63,356.88 C127.21,360.15 128.39,365.34 129.92,364.90 C131.83,364.34 132.37,358.52 134.21,354.37 C135.80,350.80 137.44,344.04 138.50,345.60 C140.87,349.06 140.86,365.77 142.80,366.90 C144.30,367.78 145.43,357.14 147.09,350.61 C148.86,343.61 148.67,339.31 151.38,333.07 C152.11,331.39 154.80,329.66 155.67,330.81 C158.23,334.17 157.89,343.07 159.96,344.34 C161.32,345.18 163.38,334.17 164.26,336.07 C166.82,341.68 166.27,359.49 168.55,363.14 C169.71,365.00 171.01,350.23 172.84,349.86 C174.45,349.53 175.36,361.23 177.13,361.39 C178.80,361.53 178.95,353.36 181.42,350.61 C182.38,349.55 184.05,351.23 185.72,351.86 C187.48,352.53 189.24,355.11 190.01,353.87 C192.67,349.59 191.65,343.65 194.30,338.08 C195.08,336.43 197.19,335.29 198.59,335.82 C200.62,336.59 202.38,343.39 202.88,341.34 C205.82,329.26 205.57,299.45 207.18,300.48 C209.00,301.66 208.34,330.39 211.47,346.85 C211.77,348.43 214.02,345.70 215.76,345.60 C217.45,345.50 218.45,345.74 220.05,346.35 C221.88,347.04 223.30,347.27 224.34,348.86 C226.73,352.48 226.64,358.57 228.64,359.38 C230.08,359.97 230.79,354.74 232.93,352.36 C234.22,350.93 235.40,350.60 237.22,349.86 C238.83,349.20 239.84,348.71 241.51,348.86 C243.27,349.01 244.46,349.43 245.80,350.61 C247.89,352.44 249.33,358.06 250.10,356.37 C252.76,350.54 252.52,332.68 254.39,331.81 C255.96,331.08 255.83,345.54 258.68,352.36 C259.26,353.76 261.92,353.44 262.97,352.36 C265.36,349.93 264.88,345.96 267.26,343.59 C268.31,342.55 270.74,342.58 271.56,343.84 C274.17,347.89 273.49,354.53 275.85,356.88 C276.92,357.94 278.32,354.06 280.14,352.36 C281.76,350.85 283.63,347.54 284.43,348.86 C287.06,353.15 287.21,367.28 288.72,366.40 C290.65,365.28 290.12,351.44 293.02,343.84 C293.56,342.42 296.17,344.84 297.31,343.84 C299.60,341.83 300.34,335.33 301.60,336.32 C303.77,338.04 303.99,344.96 305.89,350.61 C307.43,355.18 308.86,363.05 310.18,361.89 C312.30,360.04 312.36,350.49 314.48,343.09 C315.80,338.46 317.70,329.94 318.77,331.81 C321.13,335.95 320.31,351.30 323.06,358.13 C323.74,359.82 325.28,354.14 327.35,353.12 C328.72,352.44 330.18,354.42 331.64,353.87 C333.62,353.12 334.12,351.34 335.94,349.86 C337.56,348.53 339.14,348.56 340.23,346.85 C342.58,343.15 343.03,335.67 344.52,336.32 C346.47,337.18 346.29,347.37 348.81,350.61 C349.72,351.78 351.28,347.62 353.10,347.35 C354.71,347.12 355.84,348.31 357.40,349.36 C359.27,350.62 360.84,354.41 361.69,353.12 C364.27,349.19 364.13,336.86 365.98,336.32 C367.57,335.86 367.65,345.72 370.27,350.61 C371.09,352.13 373.84,353.63 374.56,352.36 C377.27,347.62 376.19,340.01 378.86,335.57 C379.62,334.30 382.21,339.17 383.15,338.08 C385.64,335.16 385.04,328.00 387.44,325.55 C388.47,324.49 391.06,327.21 391.73,329.31 C394.49,337.93 394.62,354.09 396.02,352.36 C398.05,349.88 398.49,319.69 400.32,318.78 C401.92,317.98 401.62,338.35 404.61,348.10 C405.06,349.58 407.56,346.19 408.90,346.85 C410.99,347.89 411.61,350.06 413.19,352.36 C415.05,355.07 416.46,360.79 417.48,359.38 C419.89,356.08 419.74,342.07 421.78,340.58 C423.17,339.56 424.27,348.13 426.07,353.12 C427.70,357.66 428.80,364.85 430.36,364.39 C432.23,363.85 432.23,353.29 434.65,350.61 C435.67,349.49 437.53,352.93 438.94,354.87 C440.97,357.64 442.41,364.26 443.24,362.39 C445.84,356.54 444.92,341.43 447.53,335.57 C448.36,333.71 450.60,339.88 451.82,343.09 C454.03,348.90 453.90,356.19 456.11,358.13 C457.34,359.20 458.33,353.33 460.40,350.61 C461.77,348.82 463.91,345.48 464.70,346.85 C467.35,351.49 467.42,366.33 468.99,365.65 C470.85,364.83 471.28,344.67 473.28,343.09 C474.71,341.96 475.25,356.37 477.57,358.88 C478.68,360.08 479.66,353.84 481.86,352.36 C483.09,351.54 485.34,351.78 486.16,353.12 C488.77,357.39 488.77,366.55 490.45,366.40 C492.21,366.25 492.52,357.75 494.74,352.36 C495.95,349.43 497.48,345.24 499.03,345.60 C500.92,346.04 501.32,353.61 503.32,354.37 C504.76,354.91 505.61,350.73 507.62,348.86 C509.04,347.52 510.89,345.34 511.91,346.35 C514.33,348.75 514.72,358.07 516.20,357.38 C518.15,356.46 517.83,346.53 520.49,342.34 C521.27,341.12 523.21,344.16 524.78,343.84 C526.65,343.46 527.46,340.40 529.08,340.58 C530.89,340.80 532.47,342.67 533.37,344.85 C535.90,350.99 535.61,360.01 537.66,361.39 C539.05,362.32 539.70,352.32 541.95,350.61 C543.13,349.72 544.36,354.49 546.24,354.87 C547.79,355.19 549.22,353.78 550.54,352.36 C552.66,350.07 553.43,348.46 554.83,345.60 C556.86,341.45 557.97,333.24 559.12,334.82 C561.40,337.95 560.69,351.58 563.41,357.38 C564.13,358.90 566.48,352.29 567.70,353.12 C569.91,354.60 571.00,365.03 572.00,363.14 C574.43,358.52 574.40,337.93 576.29,336.83 C577.83,335.92 577.73,350.65 580.58,358.13 C581.17,359.67 584.09,360.59 584.87,359.38 C587.52,355.28 587.09,346.17 589.16,344.85 C590.53,343.97 591.76,350.25 593.46,353.87 C595.19,357.57 596.56,364.46 597.75,363.14 C599.99,360.65 600.32,351.86 602.04,344.34 L602.04,381.50 L87.00,381.50 Z" fill="#1f1b21"/><path d="M87.00,349.86 C88.72,348.25 89.53,345.95 91.29,345.85 C92.96,345.75 94.20,349.92 95.58,349.36 C97.64,348.52 98.40,341.82 99.88,342.34 C101.83,343.02 102.41,348.37 104.17,352.36 C105.85,356.19 107.35,363.42 108.46,361.89 C110.78,358.71 110.21,345.04 112.75,340.58 C113.64,339.03 114.85,345.19 117.04,346.85 C118.29,347.79 120.35,345.95 121.34,347.10 C123.78,349.96 123.77,353.03 125.63,356.88 C127.21,360.15 128.39,365.34 129.92,364.90 C131.83,364.34 132.37,358.52 134.21,354.37 C135.80,350.80 137.44,344.04 138.50,345.60 C140.87,349.06 140.86,365.77 142.80,366.90 C144.30,367.78 145.43,357.14 147.09,350.61 C148.86,343.61 148.67,339.31 151.38,333.07 C152.11,331.39 154.80,329.66 155.67,330.81 C158.23,334.17 157.89,343.07 159.96,344.34 C161.32,345.18 163.38,334.17 164.26,336.07 C166.82,341.68 166.27,359.49 168.55,363.14 C169.71,365.00 171.01,350.23 172.84,349.86 C174.45,349.53 175.36,361.23 177.13,361.39 C178.80,361.53 178.95,353.36 181.42,350.61 C182.38,349.55 184.05,351.23 185.72,351.86 C187.48,352.53 189.24,355.11 190.01,353.87 C192.67,349.59 191.65,343.65 194.30,338.08 C195.08,336.43 197.19,335.29 198.59,335.82 C200.62,336.59 202.38,343.39 202.88,341.34 C205.82,329.26 205.57,299.45 207.18,300.48 C209.00,301.66 208.34,330.39 211.47,346.85 C211.77,348.43 214.02,345.70 215.76,345.60 C217.45,345.50 218.45,345.74 220.05,346.35 C221.88,347.04 223.30,347.27 224.34,348.86 C226.73,352.48 226.64,358.57 228.64,359.38 C230.08,359.97 230.79,354.74 232.93,352.36 C234.22,350.93 235.40,350.60 237.22,349.86 C238.83,349.20 239.84,348.71 241.51,348.86 C243.27,349.01 244.46,349.43 245.80,350.61 C247.89,352.44 249.33,358.06 250.10,356.37 C252.76,350.54 252.52,332.68 254.39,331.81 C255.96,331.08 255.83,345.54 258.68,352.36 C259.26,353.76 261.92,353.44 262.97,352.36 C265.36,349.93 264.88,345.96 267.26,343.59 C268.31,342.55 270.74,342.58 271.56,343.84 C274.17,347.89 273.49,354.53 275.85,356.88 C276.92,357.94 278.32,354.06 280.14,352.36 C281.76,350.85 283.63,347.54 284.43,348.86 C287.06,353.15 287.21,367.28 288.72,366.40 C290.65,365.28 290.12,351.44 293.02,343.84 C293.56,342.42 296.17,344.84 297.31,343.84 C299.60,341.83 300.34,335.33 301.60,336.32 C303.77,338.04 303.99,344.96 305.89,350.61 C307.43,355.18 308.86,363.05 310.18,361.89 C312.30,360.04 312.36,350.49 314.48,343.09 C315.80,338.46 317.70,329.94 318.77,331.81 C321.13,335.95 320.31,351.30 323.06,358.13 C323.74,359.82 325.28,354.14 327.35,353.12 C328.72,352.44 330.18,354.42 331.64,353.87 C333.62,353.12 334.12,351.34 335.94,349.86 C337.56,348.53 339.14,348.56 340.23,346.85 C342.58,343.15 343.03,335.67 344.52,336.32 C346.47,337.18 346.29,347.37 348.81,350.61 C349.72,351.78 351.28,347.62 353.10,347.35 C354.71,347.12 355.84,348.31 357.40,349.36 C359.27,350.62 360.84,354.41 361.69,353.12 C364.27,349.19 364.13,336.86 365.98,336.32 C367.57,335.86 367.65,345.72 370.27,350.61 C371.09,352.13 373.84,353.63 374.56,352.36 C377.27,347.62 376.19,340.01 378.86,335.57 C379.62,334.30 382.21,339.17 383.15,338.08 C385.64,335.16 385.04,328.00 387.44,325.55 C388.47,324.49 391.06,327.21 391.73,329.31 C394.49,337.93 394.62,354.09 396.02,352.36 C398.05,349.88 398.49,319.69 400.32,318.78 C401.92,317.98 401.62,338.35 404.61,348.10 C405.06,349.58 407.56,346.19 408.90,346.85 C410.99,347.89 411.61,350.06 413.19,352.36 C415.05,355.07 416.46,360.79 417.48,359.38 C419.89,356.08 419.74,342.07 421.78,340.58 C423.17,339.56 424.27,348.13 426.07,353.12 C427.70,357.66 428.80,364.85 430.36,364.39 C432.23,363.85 432.23,353.29 434.65,350.61 C435.67,349.49 437.53,352.93 438.94,354.87 C440.97,357.64 442.41,364.26 443.24,362.39 C445.84,356.54 444.92,341.43 447.53,335.57 C448.36,333.71 450.60,339.88 451.82,343.09 C454.03,348.90 453.90,356.19 456.11,358.13 C457.34,359.20 458.33,353.33 460.40,350.61 C461.77,348.82 463.91,345.48 464.70,346.85 C467.35,351.49 467.42,366.33 468.99,365.65 C470.85,364.83 471.28,344.67 473.28,343.09 C474.71,341.96 475.25,356.37 477.57,358.88 C478.68,360.08 479.66,353.84 481.86,352.36 C483.09,351.54 485.34,351.78 486.16,353.12 C488.77,357.39 488.77,366.55 490.45,366.40 C492.21,366.25 492.52,357.75 494.74,352.36 C495.95,349.43 497.48,345.24 499.03,345.60 C500.92,346.04 501.32,353.61 503.32,354.37 C504.76,354.91 505.61,350.73 507.62,348.86 C509.04,347.52 510.89,345.34 511.91,346.35 C514.33,348.75 514.72,358.07 516.20,357.38 C518.15,356.46 517.83,346.53 520.49,342.34 C521.27,341.12 523.21,344.16 524.78,343.84 C526.65,343.46 527.46,340.40 529.08,340.58 C530.89,340.80 532.47,342.67 533.37,344.85 C535.90,350.99 535.61,360.01 537.66,361.39 C539.05,362.32 539.70,352.32 541.95,350.61 C543.13,349.72 544.36,354.49 546.24,354.87 C547.79,355.19 549.22,353.78 550.54,352.36 C552.66,350.07 553.43,348.46 554.83,345.60 C556.86,341.45 557.97,333.24 559.12,334.82 C561.40,337.95 560.69,351.58 563.41,357.38 C564.13,358.90 566.48,352.29 567.70,353.12 C569.91,354.60 571.00,365.03 572.00,363.14 C574.43,358.52 574.40,337.93 576.29,336.83 C577.83,335.92 577.73,350.65 580.58,358.13 C581.17,359.67 584.09,360.59 584.87,359.38 C587.52,355.28 587.09,346.17 589.16,344.85 C590.53,343.97 591.76,350.25 593.46,353.87 C595.19,357.57 596.56,364.46 597.75,363.14 C599.99,360.65 600.32,351.86 602.04,344.34" fill="none" stroke="#1f1b21" stroke-width="1.5" stroke-linejoin="round"/><path d="M87.00,351.00 C88.72,350.80 89.58,350.70 91.29,350.50 C93.01,350.30 93.87,350.00 95.58,350.00 C97.30,350.00 98.84,349.35 99.88,350.50 C102.27,353.15 102.60,355.84 104.17,359.50 C106.03,363.84 107.12,371.59 108.46,370.50 C110.56,368.79 110.11,359.12 112.75,352.50 C113.54,350.52 115.13,349.56 117.04,349.00 C118.57,348.56 120.32,348.75 121.34,350.00 C123.75,352.95 124.05,355.64 125.63,359.50 C127.48,364.04 128.17,370.90 129.92,371.00 C131.60,371.10 131.71,363.50 134.21,360.00 C135.15,358.70 137.60,357.89 138.50,359.00 C141.03,362.09 141.48,371.69 142.80,370.50 C144.91,368.58 145.25,358.90 147.09,351.21 C148.69,344.50 148.65,340.14 151.38,334.50 C152.08,333.06 154.76,332.39 155.67,333.50 C158.20,336.57 157.44,341.27 159.96,344.94 C160.88,346.27 163.61,344.52 164.26,346.00 C167.04,352.35 166.43,362.65 168.55,364.50 C169.86,365.65 170.99,353.89 172.84,353.50 C174.43,353.17 175.47,362.84 177.13,362.70 C178.90,362.56 179.00,355.20 181.42,352.80 C182.44,351.80 184.89,352.76 185.72,354.20 C188.32,358.72 188.87,369.65 190.01,367.70 C192.30,363.77 191.35,349.82 194.30,339.50 C194.78,337.82 197.15,337.20 198.59,337.70 C200.59,338.40 202.42,344.45 202.88,342.50 C205.85,330.17 205.76,299.12 207.18,302.00 C209.20,306.12 208.27,338.39 211.47,360.00 C211.70,361.59 214.78,361.12 215.76,360.00 C218.21,357.20 217.77,351.93 220.05,350.20 C221.21,349.33 223.15,351.76 224.34,353.50 C226.58,356.76 226.78,362.33 228.64,362.70 C230.21,363.01 230.75,357.74 232.93,355.20 C234.18,353.74 236.14,351.76 237.22,352.70 C239.58,354.76 239.74,362.53 241.51,362.70 C243.17,362.85 243.58,354.98 245.80,353.50 C247.01,352.69 249.44,358.46 250.10,356.97 C252.87,350.66 252.57,334.58 254.39,334.00 C256.00,333.49 255.85,347.26 258.68,354.26 C259.28,355.74 261.52,355.75 262.97,355.20 C264.95,354.45 265.32,352.33 267.26,351.00 C268.76,349.97 270.48,348.36 271.56,349.30 C273.92,351.36 273.77,357.48 275.85,358.50 C277.20,359.16 278.12,355.08 280.14,353.50 C281.55,352.40 283.66,350.58 284.43,351.80 C287.09,355.98 286.70,365.82 288.72,367.00 C290.14,367.82 291.28,360.87 293.02,356.80 C294.72,352.79 295.39,350.70 297.31,346.80 C298.83,343.70 300.38,338.23 301.60,339.30 C303.81,341.23 303.93,348.38 305.89,354.30 C307.36,358.74 308.93,366.53 310.18,365.20 C312.37,362.89 311.82,352.68 314.48,345.20 C315.26,343.00 317.92,339.66 318.77,341.00 C321.35,345.07 320.43,354.37 323.06,358.73 C323.86,360.05 325.42,356.11 327.35,355.20 C328.85,354.50 330.16,355.43 331.64,354.70 C333.59,353.75 334.11,352.32 335.94,351.00 C337.54,349.84 338.54,349.54 340.23,348.50 C341.97,347.42 343.07,345.24 344.52,345.70 C346.50,346.33 346.78,350.43 348.81,351.21 C350.22,351.75 351.44,348.89 353.10,349.00 C354.87,349.12 355.61,350.82 357.40,351.80 C359.04,352.70 360.90,354.94 361.69,353.72 C364.33,349.62 364.34,338.22 365.98,338.50 C367.77,338.81 367.59,350.68 370.27,355.20 C371.02,356.47 373.79,354.62 374.56,352.96 C377.23,347.26 376.17,341.26 378.86,336.80 C379.61,335.55 382.24,339.78 383.15,338.68 C385.68,335.58 385.20,328.10 387.44,326.30 C388.63,325.34 391.21,329.11 391.73,331.80 C394.64,346.72 394.54,372.40 396.02,370.31 C397.97,367.56 398.20,324.46 400.32,319.70 C401.63,316.74 401.59,339.98 404.61,351.00 C405.02,352.50 407.26,350.63 408.90,351.00 C410.70,351.41 412.24,351.47 413.19,352.96 C415.67,356.87 415.93,365.00 417.48,364.50 C419.37,363.89 419.27,353.34 421.78,350.20 C422.71,349.03 425.00,351.85 426.07,353.72 C428.43,357.85 428.79,365.66 430.36,365.20 C432.23,364.65 432.22,353.96 434.65,351.21 C435.66,350.07 437.57,353.51 438.94,355.47 C441.01,358.42 442.21,365.03 443.24,363.50 C445.64,359.92 444.75,348.63 447.53,342.70 C448.18,341.31 450.93,343.54 451.82,345.20 C454.36,349.95 453.93,357.05 456.11,358.73 C457.36,359.69 458.27,354.14 460.40,351.80 C461.70,350.37 463.94,348.02 464.70,349.30 C467.37,353.80 467.09,365.50 468.99,366.25 C470.53,366.86 471.09,354.43 473.28,352.70 C474.52,351.72 475.78,359.31 477.57,359.48 C479.21,359.63 479.75,354.55 481.86,353.50 C483.19,352.84 485.23,353.75 486.16,355.20 C488.67,359.15 488.76,367.10 490.45,367.00 C492.20,366.90 492.22,358.89 494.74,354.70 C495.66,353.18 497.34,352.65 499.03,352.70 C500.77,352.75 501.92,355.50 503.32,354.97 C505.35,354.20 505.61,351.33 507.62,349.46 C509.04,348.12 510.89,345.94 511.91,346.95 C514.33,349.35 514.65,358.47 516.20,357.98 C518.09,357.37 518.25,346.16 520.49,344.20 C521.68,343.17 523.21,350.79 524.78,350.50 C526.64,350.16 527.10,343.26 529.08,342.62 C530.54,342.14 532.31,345.31 533.37,347.70 C535.74,353.06 535.69,361.04 537.66,361.99 C539.12,362.68 539.96,352.61 541.95,351.80 C543.39,351.22 544.27,356.04 546.24,358.50 C547.70,360.32 549.11,363.00 550.54,362.50 C552.54,361.80 552.87,358.12 554.83,355.50 C556.31,353.52 558.05,349.94 559.12,351.00 C561.48,353.34 561.52,363.40 563.41,364.00 C564.95,364.49 565.97,353.77 567.70,353.72 C569.40,353.66 570.29,363.78 572.00,363.74 C573.73,363.70 574.36,354.12 576.29,353.50 C577.79,353.02 578.63,358.16 580.58,361.00 C582.07,363.16 583.61,366.81 584.87,366.00 C587.04,364.61 586.95,357.05 589.16,355.50 C590.38,354.65 591.84,358.11 593.46,360.00 C595.27,362.11 596.33,366.08 597.75,365.50 C599.77,364.68 600.32,360.10 602.04,356.50 L602.04,381.50 L87.00,381.50 Z" fill="#d81b60"/><path d="M87.00,351.00 C88.72,350.80 89.58,350.70 91.29,350.50 C93.01,350.30 93.87,350.00 95.58,350.00 C97.30,350.00 98.84,349.35 99.88,350.50 C102.27,353.15 102.60,355.84 104.17,359.50 C106.03,363.84 107.12,371.59 108.46,370.50 C110.56,368.79 110.11,359.12 112.75,352.50 C113.54,350.52 115.13,349.56 117.04,349.00 C118.57,348.56 120.32,348.75 121.34,350.00 C123.75,352.95 124.05,355.64 125.63,359.50 C127.48,364.04 128.17,370.90 129.92,371.00 C131.60,371.10 131.71,363.50 134.21,360.00 C135.15,358.70 137.60,357.89 138.50,359.00 C141.03,362.09 141.48,371.69 142.80,370.50 C144.91,368.58 145.25,358.90 147.09,351.21 C148.69,344.50 148.65,340.14 151.38,334.50 C152.08,333.06 154.76,332.39 155.67,333.50 C158.20,336.57 157.44,341.27 159.96,344.94 C160.88,346.27 163.61,344.52 164.26,346.00 C167.04,352.35 166.43,362.65 168.55,364.50 C169.86,365.65 170.99,353.89 172.84,353.50 C174.43,353.17 175.47,362.84 177.13,362.70 C178.90,362.56 179.00,355.20 181.42,352.80 C182.44,351.80 184.89,352.76 185.72,354.20 C188.32,358.72 188.87,369.65 190.01,367.70 C192.30,363.77 191.35,349.82 194.30,339.50 C194.78,337.82 197.15,337.20 198.59,337.70 C200.59,338.40 202.42,344.45 202.88,342.50 C205.85,330.17 205.76,299.12 207.18,302.00 C209.20,306.12 208.27,338.39 211.47,360.00 C211.70,361.59 214.78,361.12 215.76,360.00 C218.21,357.20 217.77,351.93 220.05,350.20 C221.21,349.33 223.15,351.76 224.34,353.50 C226.58,356.76 226.78,362.33 228.64,362.70 C230.21,363.01 230.75,357.74 232.93,355.20 C234.18,353.74 236.14,351.76 237.22,352.70 C239.58,354.76 239.74,362.53 241.51,362.70 C243.17,362.85 243.58,354.98 245.80,353.50 C247.01,352.69 249.44,358.46 250.10,356.97 C252.87,350.66 252.57,334.58 254.39,334.00 C256.00,333.49 255.85,347.26 258.68,354.26 C259.28,355.74 261.52,355.75 262.97,355.20 C264.95,354.45 265.32,352.33 267.26,351.00 C268.76,349.97 270.48,348.36 271.56,349.30 C273.92,351.36 273.77,357.48 275.85,358.50 C277.20,359.16 278.12,355.08 280.14,353.50 C281.55,352.40 283.66,350.58 284.43,351.80 C287.09,355.98 286.70,365.82 288.72,367.00 C290.14,367.82 291.28,360.87 293.02,356.80 C294.72,352.79 295.39,350.70 297.31,346.80 C298.83,343.70 300.38,338.23 301.60,339.30 C303.81,341.23 303.93,348.38 305.89,354.30 C307.36,358.74 308.93,366.53 310.18,365.20 C312.37,362.89 311.82,352.68 314.48,345.20 C315.26,343.00 317.92,339.66 318.77,341.00 C321.35,345.07 320.43,354.37 323.06,358.73 C323.86,360.05 325.42,356.11 327.35,355.20 C328.85,354.50 330.16,355.43 331.64,354.70 C333.59,353.75 334.11,352.32 335.94,351.00 C337.54,349.84 338.54,349.54 340.23,348.50 C341.97,347.42 343.07,345.24 344.52,345.70 C346.50,346.33 346.78,350.43 348.81,351.21 C350.22,351.75 351.44,348.89 353.10,349.00 C354.87,349.12 355.61,350.82 357.40,351.80 C359.04,352.70 360.90,354.94 361.69,353.72 C364.33,349.62 364.34,338.22 365.98,338.50 C367.77,338.81 367.59,350.68 370.27,355.20 C371.02,356.47 373.79,354.62 374.56,352.96 C377.23,347.26 376.17,341.26 378.86,336.80 C379.61,335.55 382.24,339.78 383.15,338.68 C385.68,335.58 385.20,328.10 387.44,326.30 C388.63,325.34 391.21,329.11 391.73,331.80 C394.64,346.72 394.54,372.40 396.02,370.31 C397.97,367.56 398.20,324.46 400.32,319.70 C401.63,316.74 401.59,339.98 404.61,351.00 C405.02,352.50 407.26,350.63 408.90,351.00 C410.70,351.41 412.24,351.47 413.19,352.96 C415.67,356.87 415.93,365.00 417.48,364.50 C419.37,363.89 419.27,353.34 421.78,350.20 C422.71,349.03 425.00,351.85 426.07,353.72 C428.43,357.85 428.79,365.66 430.36,365.20 C432.23,364.65 432.22,353.96 434.65,351.21 C435.66,350.07 437.57,353.51 438.94,355.47 C441.01,358.42 442.21,365.03 443.24,363.50 C445.64,359.92 444.75,348.63 447.53,342.70 C448.18,341.31 450.93,343.54 451.82,345.20 C454.36,349.95 453.93,357.05 456.11,358.73 C457.36,359.69 458.27,354.14 460.40,351.80 C461.70,350.37 463.94,348.02 464.70,349.30 C467.37,353.80 467.09,365.50 468.99,366.25 C470.53,366.86 471.09,354.43 473.28,352.70 C474.52,351.72 475.78,359.31 477.57,359.48 C479.21,359.63 479.75,354.55 481.86,353.50 C483.19,352.84 485.23,353.75 486.16,355.20 C488.67,359.15 488.76,367.10 490.45,367.00 C492.20,366.90 492.22,358.89 494.74,354.70 C495.66,353.18 497.34,352.65 499.03,352.70 C500.77,352.75 501.92,355.50 503.32,354.97 C505.35,354.20 505.61,351.33 507.62,349.46 C509.04,348.12 510.89,345.94 511.91,346.95 C514.33,349.35 514.65,358.47 516.20,357.98 C518.09,357.37 518.25,346.16 520.49,344.20 C521.68,343.17 523.21,350.79 524.78,350.50 C526.64,350.16 527.10,343.26 529.08,342.62 C530.54,342.14 532.31,345.31 533.37,347.70 C535.74,353.06 535.69,361.04 537.66,361.99 C539.12,362.68 539.96,352.61 541.95,351.80 C543.39,351.22 544.27,356.04 546.24,358.50 C547.70,360.32 549.11,363.00 550.54,362.50 C552.54,361.80 552.87,358.12 554.83,355.50 C556.31,353.52 558.05,349.94 559.12,351.00 C561.48,353.34 561.52,363.40 563.41,364.00 C564.95,364.49 565.97,353.77 567.70,353.72 C569.40,353.66 570.29,363.78 572.00,363.74 C573.73,363.70 574.36,354.12 576.29,353.50 C577.79,353.02 578.63,358.16 580.58,361.00 C582.07,363.16 583.61,366.81 584.87,366.00 C587.04,364.61 586.95,357.05 589.16,355.50 C590.38,354.65 591.84,358.11 593.46,360.00 C595.27,362.11 596.33,366.08 597.75,365.50 C599.77,364.68 600.32,360.10 602.04,356.50 L602.04,381.50 L87.00,381.50 Z" fill="#8e24aa"/><path d="M87.00,351.22 C88.72,351.02 89.58,350.92 91.29,350.72 C93.01,350.52 93.87,350.22 95.58,350.22 C97.30,350.22 98.84,349.57 99.88,350.72 C102.27,353.37 102.60,356.06 104.17,359.72 C106.03,364.06 107.12,371.81 108.46,370.72 C110.56,369.01 110.11,359.34 112.75,352.72 C113.54,350.74 115.13,349.78 117.04,349.22 C118.57,348.78 120.32,348.97 121.34,350.22 C123.75,353.17 124.05,355.86 125.63,359.72 C127.48,364.26 128.17,371.12 129.92,371.22 C131.60,371.32 131.71,363.72 134.21,360.22 C135.15,358.92 137.60,358.11 138.50,359.22 C141.03,362.31 141.48,371.91 142.80,370.72 C144.91,368.80 145.25,359.12 147.09,351.43 C148.69,344.72 148.65,340.36 151.38,334.72 C152.08,333.28 154.76,332.61 155.67,333.72 C158.20,336.79 157.44,341.49 159.96,345.16 C160.88,346.49 163.61,344.74 164.26,346.22 C167.04,352.57 166.43,362.87 168.55,364.72 C169.86,365.87 170.99,354.11 172.84,353.72 C174.43,353.39 175.47,363.06 177.13,362.92 C178.90,362.78 179.00,355.42 181.42,353.02 C182.44,352.02 184.89,352.98 185.72,354.42 C188.32,358.94 188.87,369.87 190.01,367.92 C192.30,363.99 191.35,350.04 194.30,339.72 C194.78,338.04 197.15,337.42 198.59,337.92 C200.59,338.62 202.42,344.67 202.88,342.72 C205.85,330.39 205.76,299.34 207.18,302.22 C209.20,306.34 208.27,338.61 211.47,360.22 C211.70,361.81 214.78,361.34 215.76,360.22 C218.21,357.42 217.77,352.15 220.05,350.42 C221.21,349.55 223.15,351.98 224.34,353.72 C226.58,356.98 226.78,362.55 228.64,362.92 C230.21,363.23 230.75,357.96 232.93,355.42 C234.18,353.96 236.14,351.98 237.22,352.92 C239.58,354.98 239.74,362.75 241.51,362.92 C243.17,363.07 243.58,355.20 245.80,353.72 C247.01,352.91 249.44,358.68 250.10,357.19 C252.87,350.88 252.57,334.80 254.39,334.22 C256.00,333.71 255.85,347.48 258.68,354.48 C259.28,355.96 261.52,355.97 262.97,355.42 C264.95,354.67 265.32,352.55 267.26,351.22 C268.76,350.19 270.48,348.58 271.56,349.52 C273.92,351.58 273.77,357.70 275.85,358.72 C277.20,359.38 278.12,355.30 280.14,353.72 C281.55,352.62 283.66,350.80 284.43,352.02 C287.09,356.20 286.70,366.04 288.72,367.22 C290.14,368.04 291.28,361.09 293.02,357.02 C294.72,353.01 295.39,350.92 297.31,347.02 C298.83,343.92 300.38,338.45 301.60,339.52 C303.81,341.45 303.93,348.60 305.89,354.52 C307.36,358.96 308.93,366.75 310.18,365.42 C312.37,363.11 311.82,352.90 314.48,345.42 C315.26,343.22 317.92,339.88 318.77,341.22 C321.35,345.29 320.43,354.59 323.06,358.95 C323.86,360.27 325.42,356.33 327.35,355.42 C328.85,354.72 330.08,355.54 331.64,354.92 C333.52,354.17 334.06,352.68 335.94,352.00 C337.49,351.43 338.52,352.00 340.23,351.80 C341.96,351.60 343.06,350.45 344.52,351.00 C346.49,351.74 347.15,355.11 348.81,355.01 C350.58,354.91 351.15,351.10 353.10,350.50 C354.58,350.05 355.65,351.70 357.40,352.40 C359.09,353.08 360.92,355.16 361.69,353.94 C364.35,349.69 364.34,338.44 365.98,338.72 C367.77,339.03 367.59,350.90 370.27,355.42 C371.02,356.69 373.79,354.84 374.56,353.18 C377.23,347.48 376.17,341.48 378.86,337.02 C379.61,335.77 382.24,340.00 383.15,338.90 C385.68,335.80 385.20,328.32 387.44,326.52 C388.63,325.56 391.21,329.33 391.73,332.02 C394.64,346.94 394.54,372.62 396.02,370.52 C397.97,367.78 398.20,324.68 400.32,319.92 C401.63,316.96 401.61,339.71 404.61,351.22 C405.05,352.90 407.12,352.49 408.90,352.90 C410.56,353.28 412.30,351.96 413.19,353.18 C415.74,356.69 415.84,364.93 417.48,364.72 C419.27,364.49 419.23,355.29 421.78,352.10 C422.67,350.98 425.12,352.47 426.07,353.94 C428.55,357.79 428.70,365.58 430.36,365.42 C432.13,365.25 432.17,355.92 434.65,353.11 C435.60,352.03 437.73,354.18 438.94,355.69 C441.16,358.43 442.21,365.25 443.24,363.72 C445.64,360.14 444.75,348.85 447.53,342.92 C448.18,341.53 450.93,343.76 451.82,345.42 C454.36,350.17 453.93,357.27 456.11,358.95 C457.36,359.91 458.17,354.04 460.40,352.02 C461.60,350.94 463.95,349.95 464.70,351.20 C467.39,355.73 467.18,366.10 468.99,366.47 C470.61,366.79 471.09,354.65 473.28,352.92 C474.52,351.94 475.78,359.53 477.57,359.70 C479.21,359.85 479.75,354.77 481.86,353.72 C483.19,353.06 485.23,353.97 486.16,355.42 C488.67,359.37 488.76,367.32 490.45,367.22 C492.20,367.12 492.16,358.71 494.74,354.92 C495.59,353.67 497.42,354.23 499.03,354.60 C500.85,355.01 502.06,357.59 503.32,356.87 C505.50,355.62 505.46,352.11 507.62,349.68 C508.89,348.23 510.89,346.16 511.91,347.17 C514.33,349.57 514.65,358.69 516.20,358.20 C518.09,357.59 518.25,346.38 520.49,344.42 C521.68,343.39 523.21,351.01 524.78,350.72 C526.64,350.38 527.10,343.48 529.08,342.84 C530.54,342.36 532.31,345.53 533.37,347.92 C535.74,353.28 535.69,361.26 537.66,362.21 C539.12,362.90 539.96,352.83 541.95,352.02 C543.39,351.44 544.27,356.26 546.24,358.72 C547.70,360.54 549.11,363.22 550.54,362.72 C552.54,362.02 552.87,358.34 554.83,355.72 C556.31,353.74 558.05,350.16 559.12,351.22 C561.48,353.56 561.52,363.62 563.41,364.22 C564.95,364.71 565.97,353.99 567.70,353.94 C569.40,353.88 570.29,364.00 572.00,363.96 C573.73,363.92 574.36,354.34 576.29,353.72 C577.79,353.24 578.63,358.38 580.58,361.22 C582.07,363.38 583.61,367.03 584.87,366.22 C587.04,364.83 586.95,357.27 589.16,355.72 C590.38,354.87 591.84,358.33 593.46,360.22 C595.27,362.33 596.33,366.30 597.75,365.72 C599.77,364.90 600.32,360.32 602.04,356.72 L602.04,381.50 L87.00,381.50 Z" fill="#f012be"/><path d="M87.00,351.34 C88.72,351.14 89.58,351.04 91.29,350.84 C93.01,350.64 93.87,350.34 95.58,350.34 C97.30,350.34 98.84,349.69 99.88,350.84 C102.27,353.49 102.60,356.18 104.17,359.84 C106.03,364.18 107.12,371.93 108.46,370.84 C110.56,369.13 110.11,359.46 112.75,352.84 C113.54,350.86 115.13,349.90 117.04,349.34 C118.57,348.90 120.32,349.09 121.34,350.34 C123.75,353.29 124.05,355.98 125.63,359.84 C127.48,364.38 128.17,371.24 129.92,371.34 C131.60,371.44 131.71,363.84 134.21,360.34 C135.15,359.04 137.60,358.23 138.50,359.34 C141.03,362.43 141.48,372.03 142.80,370.84 C144.91,368.92 145.22,359.23 147.09,351.55 C148.66,345.10 148.67,340.90 151.38,335.52 C152.10,334.09 154.73,333.44 155.67,334.52 C158.16,337.35 157.48,341.86 159.96,345.28 C160.91,346.59 163.61,344.86 164.26,346.34 C167.04,352.69 166.43,362.99 168.55,364.84 C169.86,365.99 170.99,354.23 172.84,353.84 C174.43,353.51 175.47,363.18 177.13,363.04 C178.90,362.90 179.00,355.54 181.42,353.14 C182.44,352.14 184.89,353.10 185.72,354.54 C188.32,359.06 188.87,369.99 190.01,368.04 C192.30,364.11 192.06,343.39 194.30,339.84 C195.49,337.95 195.99,349.31 198.59,354.42 C199.43,356.06 202.57,358.40 202.88,356.72 C206.01,339.72 205.52,307.02 207.18,307.72 C208.95,308.47 208.30,340.58 211.47,360.34 C211.73,361.98 214.76,362.26 215.76,361.22 C218.20,358.69 217.70,353.44 220.05,351.42 C221.13,350.49 223.22,352.32 224.34,353.84 C226.66,356.97 226.78,362.67 228.64,363.04 C230.21,363.35 230.75,358.08 232.93,355.54 C234.18,354.08 236.14,352.10 237.22,353.04 C239.58,355.10 239.74,362.87 241.51,363.04 C243.17,363.19 243.58,355.32 245.80,353.84 C247.01,353.03 249.42,358.79 250.10,357.31 C252.86,351.26 252.56,335.60 254.39,335.02 C256.00,334.51 255.86,347.87 258.68,354.60 C259.30,356.08 261.52,356.09 262.97,355.54 C264.95,354.79 265.32,352.67 267.26,351.34 C268.76,350.31 270.48,348.70 271.56,349.64 C273.92,351.70 273.66,357.50 275.85,358.84 C277.10,359.61 278.21,356.12 280.14,354.92 C281.64,353.99 283.62,352.34 284.43,353.52 C287.05,357.31 286.78,366.52 288.72,367.34 C290.21,367.97 291.28,361.21 293.02,357.14 C294.72,353.13 295.27,350.96 297.31,347.14 C298.71,344.51 300.42,339.99 301.60,341.02 C303.85,342.99 304.01,349.25 305.89,354.64 C307.44,359.06 308.93,366.87 310.18,365.54 C312.37,363.23 311.82,353.02 314.48,345.54 C315.26,343.34 317.92,340.00 318.77,341.34 C321.35,345.41 320.43,354.71 323.06,359.07 C323.86,360.39 325.42,356.45 327.35,355.54 C328.85,354.84 330.05,355.60 331.64,355.04 C333.48,354.39 334.09,353.13 335.94,352.50 C337.53,351.95 338.52,352.34 340.23,352.10 C341.96,351.86 343.06,350.75 344.52,351.30 C346.49,352.04 347.15,355.41 348.81,355.31 C350.58,355.21 351.13,351.44 353.10,350.80 C354.57,350.32 355.67,351.86 357.40,352.52 C359.10,353.17 360.92,355.28 361.69,354.06 C364.35,349.81 364.34,338.56 365.98,338.84 C367.77,339.15 367.59,351.02 370.27,355.54 C371.02,356.81 373.76,354.94 374.56,353.30 C377.20,347.93 376.17,342.49 378.86,338.02 C379.60,336.78 382.28,340.16 383.15,339.02 C385.72,335.61 385.20,328.44 387.44,326.64 C388.63,325.68 391.21,329.45 391.73,332.14 C394.64,347.06 394.54,372.74 396.02,370.64 C397.97,367.90 398.20,324.80 400.32,320.04 C401.63,317.08 401.62,339.79 404.61,351.34 C405.05,353.05 407.11,352.79 408.90,353.20 C410.54,353.58 412.30,352.10 413.19,353.30 C415.74,356.76 415.82,365.01 417.48,364.84 C419.26,364.65 419.23,355.60 421.78,352.40 C422.67,351.28 425.13,352.62 426.07,354.06 C428.56,357.88 428.68,365.67 430.36,365.54 C432.12,365.41 432.17,356.23 434.65,353.41 C435.60,352.33 437.74,354.35 438.94,355.81 C441.17,358.52 442.21,365.37 443.24,363.84 C445.64,360.26 444.75,348.97 447.53,343.04 C448.18,341.65 450.93,343.88 451.82,345.54 C454.36,350.29 453.93,357.39 456.11,359.07 C457.36,360.03 458.16,354.12 460.40,352.14 C461.60,351.09 463.95,350.25 464.70,351.50 C467.39,356.03 467.19,366.26 468.99,366.59 C470.62,366.88 471.09,354.77 473.28,353.04 C474.52,352.06 475.78,359.65 477.57,359.82 C479.21,359.97 479.75,354.89 481.86,353.84 C483.19,353.18 485.23,354.09 486.16,355.54 C488.67,359.49 488.76,367.44 490.45,367.34 C492.20,367.24 492.16,358.78 494.74,355.04 C495.59,353.81 497.42,354.50 499.03,354.90 C500.85,355.35 502.08,357.91 503.32,357.17 C505.51,355.87 505.45,352.29 507.62,349.80 C508.88,348.34 510.89,346.28 511.91,347.29 C514.33,349.69 514.65,358.81 516.20,358.32 C518.09,357.71 518.25,346.50 520.49,344.54 C521.68,343.51 523.21,351.13 524.78,350.84 C526.64,350.50 527.10,343.60 529.08,342.96 C530.54,342.48 532.31,345.65 533.37,348.04 C535.74,353.40 535.69,361.38 537.66,362.33 C539.12,363.02 539.96,352.95 541.95,352.14 C543.39,351.56 544.27,356.38 546.24,358.84 C547.70,360.66 549.11,363.34 550.54,362.84 C552.54,362.14 552.87,358.46 554.83,355.84 C556.31,353.86 558.05,350.28 559.12,351.34 C561.48,353.68 561.52,363.74 563.41,364.34 C564.95,364.83 566.21,353.43 567.70,354.06 C569.65,354.88 570.18,367.61 572.00,367.96 C573.61,368.27 574.07,357.43 576.29,355.72 C577.50,354.79 578.80,359.14 580.58,361.34 C582.24,363.39 583.51,366.99 584.87,366.34 C586.95,365.34 586.91,358.79 589.16,357.22 C590.35,356.39 591.97,358.85 593.46,360.34 C595.41,362.30 596.33,366.42 597.75,365.84 C599.77,365.02 600.32,360.44 602.04,356.84 L602.04,381.50 L87.00,381.50 Z" fill="#ff851b"/><path d="M87.00,351.34 C88.72,351.14 89.58,351.04 91.29,350.84 C93.01,350.64 93.87,350.34 95.58,350.34 C97.30,350.34 98.84,349.69 99.88,350.84 C102.27,353.49 102.60,356.18 104.17,359.84 C106.03,364.18 107.12,371.93 108.46,370.84 C110.56,369.13 110.11,359.46 112.75,352.84 C113.54,350.86 115.13,349.90 117.04,349.34 C118.57,348.90 120.32,349.09 121.34,350.34 C123.75,353.29 124.05,355.98 125.63,359.84 C127.48,364.38 128.17,371.24 129.92,371.34 C131.60,371.44 131.71,363.84 134.21,360.34 C135.15,359.04 137.60,358.23 138.50,359.34 C141.03,362.43 141.48,372.03 142.80,370.84 C144.91,368.92 145.22,359.23 147.09,351.55 C148.66,345.10 148.67,340.90 151.38,335.52 C152.10,334.09 154.73,333.44 155.67,334.52 C158.16,337.35 157.48,341.86 159.96,345.28 C160.91,346.59 163.61,344.86 164.26,346.34 C167.04,352.69 166.43,362.99 168.55,364.84 C169.86,365.99 170.99,354.23 172.84,353.84 C174.43,353.51 175.47,363.18 177.13,363.04 C178.90,362.90 179.00,355.54 181.42,353.14 C182.44,352.14 184.89,353.10 185.72,354.54 C188.32,359.06 188.87,369.99 190.01,368.04 C192.30,364.11 192.06,343.39 194.30,339.84 C195.49,337.95 195.99,349.31 198.59,354.42 C199.43,356.06 202.57,358.40 202.88,356.72 C206.01,339.72 205.52,307.02 207.18,307.72 C208.95,308.47 208.30,340.58 211.47,360.34 C211.73,361.98 214.76,362.26 215.76,361.22 C218.20,358.69 217.70,353.44 220.05,351.42 C221.13,350.49 223.22,352.32 224.34,353.84 C226.66,356.97 226.78,362.67 228.64,363.04 C230.21,363.35 230.75,358.08 232.93,355.54 C234.18,354.08 236.14,352.10 237.22,353.04 C239.58,355.10 239.74,362.87 241.51,363.04 C243.17,363.19 243.58,355.32 245.80,353.84 C247.01,353.03 249.42,358.79 250.10,357.31 C252.86,351.26 252.56,335.60 254.39,335.02 C256.00,334.51 255.86,347.87 258.68,354.60 C259.30,356.08 261.52,356.09 262.97,355.54 C264.95,354.79 265.32,352.67 267.26,351.34 C268.76,350.31 270.48,348.70 271.56,349.64 C273.92,351.70 273.66,357.50 275.85,358.84 C277.10,359.61 278.21,356.12 280.14,354.92 C281.64,353.99 283.62,352.34 284.43,353.52 C287.05,357.31 286.78,366.52 288.72,367.34 C290.21,367.97 291.28,361.21 293.02,357.14 C294.72,353.13 295.27,350.96 297.31,347.14 C298.71,344.51 300.42,339.99 301.60,341.02 C303.85,342.99 304.01,349.25 305.89,354.64 C307.44,359.06 308.93,366.87 310.18,365.54 C312.37,363.23 311.82,353.02 314.48,345.54 C315.26,343.34 317.92,340.00 318.77,341.34 C321.35,345.41 320.43,354.71 323.06,359.07 C323.86,360.39 325.42,356.45 327.35,355.54 C328.85,354.84 330.05,355.60 331.64,355.04 C333.48,354.39 334.09,353.13 335.94,352.50 C337.53,351.95 338.52,352.34 340.23,352.10 C341.96,351.86 343.06,350.75 344.52,351.30 C346.49,352.04 347.15,355.41 348.81,355.31 C350.58,355.21 351.13,351.44 353.10,350.80 C354.57,350.32 355.67,351.86 357.40,352.52 C359.10,353.17 360.92,355.28 361.69,354.06 C364.35,349.81 364.34,338.56 365.98,338.84 C367.77,339.15 367.59,351.02 370.27,355.54 C371.02,356.81 373.76,354.94 374.56,353.30 C377.20,347.93 376.17,342.49 378.86,338.02 C379.60,336.78 382.28,340.16 383.15,339.02 C385.72,335.61 385.20,328.44 387.44,326.64 C388.63,325.68 391.21,329.45 391.73,332.14 C394.64,347.06 394.54,372.74 396.02,370.64 C397.97,367.90 398.20,324.80 400.32,320.04 C401.63,317.08 401.62,339.79 404.61,351.34 C405.05,353.05 407.11,352.79 408.90,353.20 C410.54,353.58 412.30,352.10 413.19,353.30 C415.74,356.76 415.82,365.01 417.48,364.84 C419.26,364.65 419.23,355.60 421.78,352.40 C422.67,351.28 425.13,352.62 426.07,354.06 C428.56,357.88 428.68,365.67 430.36,365.54 C432.12,365.41 432.17,356.23 434.65,353.41 C435.60,352.33 437.74,354.35 438.94,355.81 C441.17,358.52 442.21,365.37 443.24,363.84 C445.64,360.26 444.75,348.97 447.53,343.04 C448.18,341.65 450.93,343.88 451.82,345.54 C454.36,350.29 453.93,357.39 456.11,359.07 C457.36,360.03 458.16,354.12 460.40,352.14 C461.60,351.09 463.95,350.25 464.70,351.50 C467.39,356.03 467.19,366.26 468.99,366.59 C470.62,366.88 471.09,354.77 473.28,353.04 C474.52,352.06 475.78,359.65 477.57,359.82 C479.21,359.97 479.75,354.89 481.86,353.84 C483.19,353.18 485.23,354.09 486.16,355.54 C488.67,359.49 488.76,367.44 490.45,367.34 C492.20,367.24 492.16,358.78 494.74,355.04 C495.59,353.81 497.42,354.50 499.03,354.90 C500.85,355.35 502.08,357.91 503.32,357.17 C505.51,355.87 505.45,352.29 507.62,349.80 C508.88,348.34 510.89,346.28 511.91,347.29 C514.33,349.69 514.65,358.81 516.20,358.32 C518.09,357.71 518.25,346.50 520.49,344.54 C521.68,343.51 523.07,350.86 524.78,350.84 C526.51,350.82 527.33,344.52 529.08,344.46 C530.76,344.40 532.09,347.88 533.37,350.54 C535.52,355.03 535.83,361.99 537.66,362.33 C539.27,362.63 539.96,352.95 541.95,352.14 C543.39,351.56 544.27,356.38 546.24,358.84 C547.70,360.66 549.11,363.34 550.54,362.84 C552.54,362.14 552.87,358.46 554.83,355.84 C556.31,353.86 558.05,350.28 559.12,351.34 C561.48,353.68 561.52,363.74 563.41,364.34 C564.95,364.83 566.21,353.43 567.70,354.06 C569.65,354.88 570.18,367.61 572.00,367.96 C573.61,368.27 574.07,357.43 576.29,355.72 C577.50,354.79 578.80,359.14 580.58,361.34 C582.24,363.39 583.51,366.99 584.87,366.34 C586.95,365.34 586.91,358.79 589.16,357.22 C590.35,356.39 591.97,358.85 593.46,360.34 C595.41,362.30 596.33,366.42 597.75,365.84 C599.77,365.02 600.32,360.44 602.04,356.84 L602.04,381.50 L87.00,381.50 Z" fill="#01ff70"/><path d="M87.00,351.34 C88.72,351.14 89.58,351.04 91.29,350.84 C93.01,350.64 93.87,350.34 95.58,350.34 C97.30,350.34 98.84,349.69 99.88,350.84 C102.27,353.49 102.60,356.18 104.17,359.84 C106.03,364.18 107.12,371.93 108.46,370.84 C110.56,369.13 110.11,359.46 112.75,352.84 C113.54,350.86 115.13,349.90 117.04,349.34 C118.57,348.90 120.32,349.09 121.34,350.34 C123.75,353.29 124.05,355.98 125.63,359.84 C127.48,364.38 128.17,371.24 129.92,371.34 C131.60,371.44 131.71,363.84 134.21,360.34 C135.15,359.04 137.60,358.23 138.50,359.34 C141.03,362.43 141.48,372.03 142.80,370.84 C144.91,368.92 144.84,359.09 147.09,351.55 C148.28,347.56 149.14,345.43 151.38,342.02 C152.57,340.21 154.70,337.40 155.67,338.52 C158.13,341.35 157.36,347.47 159.96,351.88 C160.79,353.28 163.43,351.64 164.26,353.04 C166.86,357.43 166.62,365.60 168.55,366.34 C170.05,366.92 170.86,357.10 172.84,356.34 C174.29,355.78 175.67,363.58 177.13,363.04 C179.11,362.30 179.00,355.54 181.42,353.14 C182.44,352.14 184.89,353.10 185.72,354.54 C188.32,359.06 188.24,367.88 190.01,368.04 C191.68,368.20 191.79,358.36 194.30,355.34 C195.22,354.23 196.76,357.21 198.59,357.72 C200.19,358.16 202.48,359.22 202.88,357.72 C205.91,346.62 205.53,325.72 207.18,326.22 C208.96,326.76 208.42,347.92 211.47,360.34 C211.86,361.92 214.65,362.15 215.76,361.22 C218.08,359.27 217.72,355.12 220.05,353.12 C221.16,352.17 223.31,352.65 224.34,353.84 C226.75,356.62 226.78,362.67 228.64,363.04 C230.21,363.35 230.75,358.08 232.93,355.54 C234.18,354.08 236.14,352.10 237.22,353.04 C239.58,355.10 239.74,362.87 241.51,363.04 C243.17,363.19 243.58,355.32 245.80,353.84 C247.01,353.03 248.34,357.24 250.10,357.31 C251.78,357.39 253.15,353.46 254.39,354.22 C256.59,355.57 256.37,359.91 258.68,362.60 C259.81,363.91 262.03,365.31 262.97,364.24 C265.47,361.41 264.88,356.90 267.26,352.84 C268.31,351.06 270.37,348.81 271.56,349.64 C273.80,351.21 273.66,357.50 275.85,358.84 C277.10,359.61 278.21,356.12 280.14,354.92 C281.64,353.99 283.62,352.34 284.43,353.52 C287.05,357.31 286.78,366.52 288.72,367.34 C290.21,367.97 291.28,361.21 293.02,357.14 C294.72,353.13 295.27,350.96 297.31,347.14 C298.71,344.51 300.42,339.99 301.60,341.02 C303.85,342.99 304.01,349.25 305.89,354.64 C307.44,359.06 308.93,366.87 310.18,365.54 C312.37,363.23 311.82,353.02 314.48,345.54 C315.26,343.34 317.92,340.00 318.77,341.34 C321.35,345.41 320.43,354.71 323.06,359.07 C323.86,360.39 325.42,356.45 327.35,355.54 C328.85,354.84 330.05,355.60 331.64,355.04 C333.48,354.39 334.10,352.92 335.94,352.50 C337.53,352.14 338.51,352.88 340.23,353.10 C341.94,353.32 343.02,352.90 344.52,353.60 C346.45,354.50 347.37,357.58 348.81,357.11 C350.80,356.46 350.97,351.94 353.10,350.80 C354.40,350.11 355.67,351.86 357.40,352.52 C359.10,353.17 360.92,355.28 361.69,354.06 C364.35,349.81 364.34,338.56 365.98,338.84 C367.77,339.15 367.59,351.02 370.27,355.54 C371.02,356.81 373.76,354.94 374.56,353.30 C377.20,347.93 376.17,342.49 378.86,338.02 C379.60,336.78 382.28,340.16 383.15,339.02 C385.72,335.61 385.20,328.44 387.44,326.64 C388.63,325.68 391.21,329.45 391.73,332.14 C394.64,347.06 394.54,372.74 396.02,370.64 C397.97,367.90 398.20,324.80 400.32,320.04 C401.63,317.08 401.62,339.79 404.61,351.34 C405.05,353.05 407.11,352.79 408.90,353.20 C410.54,353.58 412.30,352.10 413.19,353.30 C415.74,356.76 415.82,365.01 417.48,364.84 C419.26,364.65 419.23,355.60 421.78,352.40 C422.67,351.28 425.13,352.62 426.07,354.06 C428.56,357.88 428.68,365.67 430.36,365.54 C432.12,365.41 432.17,356.23 434.65,353.41 C435.60,352.33 437.74,354.35 438.94,355.81 C441.17,358.52 442.21,365.37 443.24,363.84 C445.64,360.26 444.75,348.97 447.53,343.04 C448.18,341.65 450.93,343.88 451.82,345.54 C454.36,350.29 453.93,357.39 456.11,359.07 C457.36,360.03 458.16,354.12 460.40,352.14 C461.60,351.09 463.95,350.25 464.70,351.50 C467.39,356.03 467.19,366.26 468.99,366.59 C470.62,366.88 471.09,354.77 473.28,353.04 C474.52,352.06 475.78,359.65 477.57,359.82 C479.21,359.97 479.75,354.89 481.86,353.84 C483.19,353.18 485.23,354.09 486.16,355.54 C488.67,359.49 488.76,367.44 490.45,367.34 C492.20,367.24 492.16,358.78 494.74,355.04 C495.59,353.81 497.42,354.50 499.03,354.90 C500.85,355.35 502.08,357.91 503.32,357.17 C505.51,355.87 505.45,352.29 507.62,349.80 C508.88,348.34 510.89,346.28 511.91,347.29 C514.33,349.69 514.65,358.81 516.20,358.32 C518.09,357.71 518.25,346.50 520.49,344.54 C521.68,343.51 522.88,350.41 524.78,350.84 C526.31,351.18 527.41,346.36 529.08,346.46 C530.84,346.56 532.15,349.09 533.37,351.34 C535.58,355.43 535.89,362.16 537.66,362.33 C539.32,362.48 539.96,352.95 541.95,352.14 C543.39,351.56 544.27,356.38 546.24,358.84 C547.70,360.66 548.97,363.11 550.54,362.84 C552.40,362.51 553.01,359.45 554.83,357.34 C556.45,355.45 557.97,351.90 559.12,352.84 C561.40,354.70 561.35,363.26 563.41,364.34 C564.79,365.06 566.27,356.75 567.70,357.36 C569.70,358.20 570.39,368.27 572.00,367.96 C573.82,367.61 574.07,357.43 576.29,355.72 C577.50,354.79 578.80,359.14 580.58,361.34 C582.24,363.39 583.51,366.99 584.87,366.34 C586.95,365.34 586.91,358.79 589.16,357.22 C590.35,356.39 592.19,358.70 593.46,360.34 C595.62,363.15 596.29,368.94 597.75,368.34 C599.72,367.54 600.32,361.44 602.04,356.84 L602.04,381.50 L87.00,381.50 Z" fill="#3d9970"/><path d="M87.00,352.94 C88.72,352.64 89.56,352.39 91.29,352.19 C93.00,351.99 93.87,351.94 95.58,351.94 C97.30,351.94 98.82,351.09 99.88,352.19 C102.25,354.64 102.60,357.30 104.17,360.81 C106.04,365.03 107.12,372.58 108.46,371.51 C110.56,369.84 110.11,360.38 112.75,353.96 C113.54,352.05 115.15,351.21 117.04,350.69 C118.58,350.27 120.30,350.39 121.34,351.62 C123.73,354.44 124.05,357.07 125.63,360.81 C127.49,365.23 128.16,371.90 129.92,372.01 C131.60,372.13 131.72,364.69 134.21,361.39 C135.16,360.13 137.58,359.51 138.50,360.62 C141.01,363.62 141.48,372.83 142.80,371.67 C144.92,369.79 144.86,360.30 147.09,353.02 C148.29,349.08 149.14,346.98 151.38,343.62 C152.58,341.82 154.70,339.00 155.67,340.12 C158.13,342.95 157.36,349.07 159.96,353.48 C160.79,354.88 163.43,353.25 164.26,354.64 C166.86,359.02 166.62,367.20 168.55,367.92 C170.06,368.48 170.85,358.62 172.84,357.84 C174.28,357.27 175.67,365.07 177.13,364.54 C179.10,363.83 179.00,357.17 181.42,354.74 C182.43,353.73 184.88,354.53 185.72,355.94 C188.32,360.32 188.23,369.00 190.01,369.21 C191.66,369.40 191.81,359.81 194.30,356.94 C195.24,355.86 196.76,358.81 198.59,359.32 C200.19,359.76 202.48,360.82 202.88,359.32 C205.91,348.22 205.53,327.32 207.18,327.82 C208.96,328.36 208.42,349.84 211.47,361.94 C211.85,363.45 214.60,362.84 215.76,361.85 C218.04,359.90 217.79,356.34 220.05,354.59 C221.22,353.69 223.41,353.99 224.34,355.24 C226.84,358.57 226.64,365.20 228.64,366.04 C230.07,366.64 230.72,361.15 232.93,358.84 C234.15,357.55 236.02,356.24 237.22,357.04 C239.46,358.54 239.94,364.90 241.51,364.58 C243.37,364.21 243.56,356.88 245.80,355.31 C246.99,354.48 248.33,358.49 250.10,358.59 C251.76,358.69 253.18,355.03 254.39,355.82 C256.61,357.27 256.37,361.51 258.68,364.20 C259.81,365.51 262.04,366.91 262.97,365.84 C265.47,362.97 264.89,358.46 267.26,354.34 C268.33,352.49 270.37,350.07 271.56,350.92 C273.81,352.51 273.66,359.08 275.85,360.44 C277.10,361.22 278.17,357.51 280.14,356.27 C281.61,355.35 283.61,353.87 284.43,355.05 C287.04,358.78 286.79,367.79 288.72,368.54 C290.23,369.12 291.29,362.43 293.02,358.37 C294.72,354.36 295.24,352.17 297.31,348.37 C298.67,345.87 300.45,341.57 301.60,342.62 C303.89,344.72 303.98,350.86 305.89,356.24 C307.41,360.52 308.95,368.08 310.18,366.75 C312.38,364.39 311.82,354.38 314.48,347.01 C315.25,344.85 317.92,341.61 318.77,342.94 C321.35,346.96 320.44,356.18 323.06,360.38 C323.88,361.70 325.41,357.71 327.35,356.75 C328.85,356.02 330.03,356.71 331.64,356.17 C333.46,355.55 334.13,354.16 335.94,353.85 C337.56,353.57 338.50,354.43 340.23,354.70 C341.93,354.97 343.02,354.50 344.52,355.20 C346.45,356.10 347.37,359.18 348.81,358.71 C350.80,358.06 350.97,353.54 353.10,352.40 C354.40,351.71 355.67,353.46 357.40,354.12 C359.10,354.77 360.92,356.88 361.69,355.66 C364.36,351.36 364.34,340.03 365.98,340.31 C367.77,340.62 367.63,352.85 370.27,357.14 C371.06,358.42 373.70,356.02 374.56,354.24 C377.13,348.97 376.18,343.92 378.86,339.50 C379.61,338.26 382.27,341.24 383.15,340.09 C385.71,336.72 385.23,329.83 387.44,328.20 C388.66,327.29 391.19,331.05 391.73,333.74 C394.62,348.05 394.55,372.83 396.02,370.72 C397.98,367.92 398.22,325.83 400.32,321.47 C401.66,318.67 401.62,341.24 404.61,352.81 C405.05,354.52 407.11,354.28 408.90,354.67 C410.54,355.03 412.27,353.52 413.19,354.69 C415.70,357.87 415.81,365.68 417.48,365.55 C419.25,365.40 419.26,357.03 421.78,354.00 C422.69,352.90 425.14,353.87 426.07,355.22 C428.57,358.87 428.66,366.53 430.36,366.49 C432.09,366.44 432.18,357.71 434.65,355.01 C435.61,353.96 437.73,355.72 438.94,357.09 C441.17,359.61 442.21,366.23 443.24,364.74 C445.64,361.25 444.75,350.43 447.53,344.64 C448.18,343.28 450.94,345.27 451.82,346.86 C454.37,351.47 453.95,358.58 456.11,360.16 C457.38,361.09 458.15,355.04 460.40,353.14 C461.58,352.16 463.94,351.69 464.70,352.95 C467.37,357.41 467.19,367.14 468.99,367.45 C470.62,367.73 471.09,356.09 473.28,354.44 C474.53,353.49 475.80,360.82 477.57,360.95 C479.23,361.07 479.75,356.13 481.86,355.07 C483.19,354.40 485.24,355.21 486.16,356.63 C488.67,360.55 488.75,368.49 490.45,368.43 C492.18,368.38 492.17,359.94 494.74,356.36 C495.60,355.16 497.40,356.10 499.03,356.50 C500.83,356.94 502.11,359.23 503.32,358.45 C505.54,357.03 505.42,353.49 507.62,351.00 C508.86,349.59 510.89,347.69 511.91,348.69 C514.33,351.08 514.66,359.99 516.20,359.48 C518.09,358.86 518.27,347.69 520.49,345.86 C521.71,344.86 522.88,351.99 524.78,352.42 C526.32,352.76 527.41,347.68 529.08,347.78 C530.84,347.89 532.08,350.62 533.37,352.94 C535.52,356.82 535.91,363.22 537.66,363.30 C539.35,363.39 539.96,354.16 541.95,353.37 C543.39,352.80 544.30,357.47 546.24,359.89 C547.73,361.74 548.95,364.28 550.54,364.04 C552.38,363.77 553.03,360.72 554.83,358.62 C556.47,356.69 557.95,353.03 559.12,353.96 C561.39,355.77 561.31,364.24 563.41,365.46 C564.75,366.24 566.31,358.29 567.70,358.96 C569.75,359.93 570.41,369.92 572.00,369.56 C573.84,369.14 574.04,358.83 576.29,357.00 C577.47,356.02 578.82,360.36 580.58,362.54 C582.25,364.61 583.51,368.26 584.87,367.62 C586.94,366.64 586.88,360.19 589.16,358.50 C590.32,357.64 592.26,359.67 593.46,361.24 C595.69,364.15 596.26,370.24 597.75,369.69 C599.70,368.96 600.32,362.70 602.04,358.04 L602.04,381.50 L87.00,381.50 Z" fill="#39cccc"/><path d="M87.00,360.00 C88.72,358.42 89.36,356.61 91.29,356.05 C92.79,355.61 93.87,357.50 95.58,357.50 C97.30,357.50 98.69,355.22 99.88,356.05 C102.12,357.61 102.64,360.40 104.17,363.46 C106.07,367.28 107.12,374.24 108.46,373.25 C110.56,371.68 110.11,362.84 112.75,357.07 C113.54,355.36 115.21,354.95 117.04,354.55 C118.64,354.20 120.25,354.05 121.34,355.19 C123.68,357.62 124.06,360.08 125.63,363.46 C127.50,367.51 128.14,373.58 129.92,373.75 C131.58,373.90 131.78,366.98 134.21,364.27 C135.22,363.15 137.51,363.08 138.50,364.19 C140.95,366.91 141.47,374.88 142.80,373.86 C144.91,372.21 144.93,363.88 147.09,357.51 C148.36,353.74 148.99,351.23 151.38,348.50 C152.43,347.31 154.76,346.59 155.67,347.70 C158.19,350.79 157.43,355.52 159.96,359.00 C160.87,360.24 163.39,358.23 164.26,359.50 C166.82,363.23 166.80,371.40 168.55,371.50 C170.23,371.60 170.96,360.50 172.84,360.00 C174.39,359.58 175.34,368.99 177.13,369.20 C178.77,369.39 179.10,363.49 181.42,361.00 C182.53,359.82 184.86,358.87 185.72,360.02 C188.29,363.46 188.30,372.50 190.01,372.46 C191.74,372.41 191.71,363.41 194.30,359.80 C195.14,358.63 197.25,359.57 198.59,360.50 C200.68,361.93 202.29,367.55 202.88,365.70 C205.72,356.95 205.50,333.69 207.18,334.00 C208.93,334.33 208.58,357.70 211.47,367.30 C212.02,369.13 214.17,364.56 215.76,362.56 C217.60,360.24 218.02,357.27 220.05,356.51 C221.46,355.98 223.22,357.69 224.34,359.32 C226.66,362.69 226.92,369.00 228.64,369.01 C230.35,369.01 230.51,362.38 232.93,359.35 C233.94,358.08 236.30,357.16 237.22,358.25 C239.73,361.22 239.69,369.17 241.51,369.50 C243.12,369.79 243.46,361.81 245.80,359.81 C246.89,358.88 248.62,362.61 250.10,362.17 C252.05,361.60 252.89,356.89 254.39,357.30 C256.32,357.82 256.95,361.63 258.68,364.50 C260.38,367.31 261.74,372.51 262.97,371.50 C265.17,369.71 264.74,362.51 267.26,357.50 C268.17,355.71 270.70,353.26 271.56,354.49 C274.14,358.18 273.86,368.74 275.85,369.80 C277.29,370.57 277.64,362.34 280.14,359.05 C281.07,357.82 283.62,357.29 284.43,358.50 C287.06,362.42 286.79,371.14 288.72,371.88 C290.23,372.46 291.29,365.83 293.02,361.80 C294.73,357.80 295.09,355.45 297.31,351.80 C298.52,349.81 300.60,346.57 301.60,347.70 C304.03,350.45 303.83,356.12 305.89,361.50 C307.27,365.09 309.03,371.48 310.18,370.14 C312.47,367.48 311.68,357.84 314.48,351.51 C315.11,350.06 317.95,349.51 318.77,350.70 C321.39,354.54 320.63,361.41 323.06,364.08 C324.07,365.19 325.39,361.24 327.35,360.14 C328.82,359.32 330.06,359.94 331.64,359.27 C333.49,358.50 334.12,357.43 335.94,356.55 C337.55,355.76 338.51,355.09 340.23,355.10 C341.95,355.11 343.12,355.54 344.52,356.60 C346.55,358.14 347.28,361.96 348.81,361.60 C350.72,361.16 351.05,355.44 353.10,354.60 C354.49,354.04 355.61,356.79 357.40,358.10 C359.05,359.31 360.88,362.15 361.69,360.90 C364.31,356.83 364.37,344.37 365.98,344.81 C367.80,345.29 367.84,359.81 370.27,363.20 C371.27,364.59 373.35,359.58 374.56,356.77 C376.79,351.59 376.22,347.43 378.86,343.20 C379.65,341.93 382.17,344.17 383.15,343.02 C385.60,340.17 385.54,333.71 387.44,333.20 C388.97,332.79 390.98,337.37 391.73,340.70 C394.41,352.50 394.64,373.43 396.02,371.02 C398.08,367.44 398.30,328.94 400.32,325.72 C401.73,323.46 401.58,346.17 404.61,357.31 C405.02,358.81 407.23,357.03 408.90,357.31 C410.66,357.60 412.10,357.44 413.19,358.72 C415.53,361.46 415.86,367.60 417.48,367.37 C419.29,367.11 419.34,360.03 421.78,357.50 C422.77,356.47 425.11,357.18 426.07,358.46 C428.55,361.80 428.61,368.93 430.36,369.04 C432.04,369.15 432.24,361.35 434.65,359.00 C435.67,358.01 437.67,359.46 438.94,360.67 C441.10,362.72 442.17,368.43 443.24,367.16 C445.60,364.36 444.78,355.81 447.53,350.50 C448.21,349.18 450.98,349.34 451.82,350.58 C454.42,354.41 454.01,361.87 456.11,363.16 C457.45,363.99 458.13,357.91 460.40,355.89 C461.56,354.85 463.93,354.26 464.70,355.51 C467.36,359.81 467.09,369.09 468.99,369.76 C470.52,370.30 471.11,359.96 473.28,358.52 C474.54,357.68 475.86,364.07 477.57,364.07 C479.29,364.06 479.76,359.58 481.86,358.50 C483.19,357.82 485.26,358.30 486.16,359.65 C488.69,363.48 488.70,371.37 490.45,371.45 C492.14,371.54 492.22,363.15 494.74,360.08 C495.65,358.97 497.31,360.98 499.03,361.00 C500.75,361.02 502.03,361.17 503.32,360.17 C505.46,358.52 505.51,356.17 507.62,354.36 C508.94,353.22 510.89,351.83 511.91,352.82 C514.32,355.17 514.69,363.30 516.20,362.73 C518.13,362.00 518.41,350.85 520.49,349.58 C521.85,348.76 523.19,357.78 524.78,357.50 C526.62,357.18 527.28,348.29 529.08,348.08 C530.71,347.89 531.73,353.09 533.37,356.50 C535.17,360.24 535.92,365.90 537.66,365.96 C539.35,366.02 539.96,357.54 541.95,356.80 C543.40,356.26 544.39,360.49 546.24,362.77 C547.83,364.72 549.02,367.75 550.54,367.38 C552.45,366.91 552.96,363.25 554.83,360.69 C556.39,358.53 557.99,354.54 559.12,355.57 C561.43,357.70 561.31,367.25 563.41,368.57 C564.75,369.42 566.21,360.49 567.70,361.00 C569.65,361.66 570.43,371.92 572.00,371.50 C573.86,371.00 574.17,360.07 576.29,358.69 C577.60,357.82 578.69,363.12 580.58,365.88 C582.12,368.12 583.58,371.97 584.87,371.19 C587.02,369.89 586.81,362.75 589.16,360.69 C590.25,359.74 592.15,362.09 593.46,363.66 C595.59,366.23 596.21,371.46 597.75,371.05 C599.65,370.55 600.32,365.25 602.04,361.38 L602.04,381.50 L87.00,381.50 Z" fill="#001f3f"/><path d="M87.00,360.30 C88.72,358.71 89.36,356.88 91.29,356.32 C92.79,355.88 93.87,357.80 95.58,357.80 C97.30,357.80 98.68,355.50 99.88,356.32 C102.11,357.85 102.64,360.63 104.17,363.66 C106.08,367.45 107.12,374.37 108.46,373.38 C110.56,371.83 110.11,363.02 112.75,357.30 C113.54,355.60 115.21,355.22 117.04,354.82 C118.65,354.47 120.24,354.31 121.34,355.44 C123.68,357.85 124.06,360.30 125.63,363.66 C127.50,367.68 128.14,373.71 129.92,373.88 C131.58,374.04 131.79,367.15 134.21,364.48 C135.22,363.37 137.51,363.33 138.50,364.44 C140.94,367.15 141.47,375.04 142.80,374.02 C144.91,372.39 144.93,364.13 147.09,357.80 C148.37,354.04 148.99,351.53 151.38,348.80 C152.43,347.61 154.76,346.89 155.67,348.00 C158.19,351.09 157.43,355.82 159.96,359.30 C160.87,360.54 163.39,358.53 164.26,359.80 C166.82,363.53 166.80,371.70 168.55,371.80 C170.23,371.90 170.96,360.80 172.84,360.30 C174.39,359.88 175.34,369.29 177.13,369.50 C178.77,369.69 179.10,363.79 181.42,361.30 C182.53,360.11 184.85,359.15 185.72,360.30 C188.29,363.71 188.30,372.73 190.01,372.69 C191.74,372.65 191.71,363.68 194.30,360.10 C195.15,358.93 197.25,359.87 198.59,360.80 C200.68,362.23 202.29,367.85 202.88,366.00 C205.72,357.25 205.50,333.99 207.18,334.30 C208.93,334.63 208.59,358.09 211.47,367.60 C212.03,369.45 214.14,364.73 215.76,362.69 C217.57,360.41 218.04,357.53 220.05,356.80 C221.47,356.29 223.23,357.97 224.34,359.60 C226.66,362.97 226.92,369.31 228.64,369.30 C230.36,369.29 230.50,362.60 232.93,359.55 C233.93,358.29 236.30,357.42 237.22,358.52 C239.73,361.52 239.68,369.46 241.51,369.80 C243.12,370.10 243.45,362.12 245.80,360.10 C246.89,359.17 248.62,362.86 250.10,362.43 C252.05,361.86 252.89,357.19 254.39,357.60 C256.33,358.14 256.95,361.93 258.68,364.80 C260.38,367.61 261.74,372.81 262.97,371.80 C265.17,370.01 264.74,362.82 267.26,357.80 C268.17,355.99 270.70,353.52 271.56,354.74 C274.14,358.44 273.86,369.04 275.85,370.10 C277.29,370.87 277.64,362.61 280.14,359.32 C281.07,358.09 283.62,357.59 284.43,358.80 C287.06,362.71 286.80,371.39 288.72,372.12 C290.23,372.69 291.29,366.07 293.02,362.05 C294.73,358.05 295.08,355.69 297.31,352.05 C298.52,350.07 300.60,346.87 301.60,348.00 C304.04,350.77 303.83,356.42 305.89,361.80 C307.26,365.37 309.03,371.72 310.18,370.38 C312.47,367.72 311.68,358.11 314.48,351.80 C315.12,350.36 317.95,349.81 318.77,351.00 C321.39,354.83 320.64,361.70 323.06,364.35 C324.07,365.45 325.39,361.49 327.35,360.38 C328.82,359.55 330.05,360.16 331.64,359.50 C333.48,358.74 334.12,357.69 335.94,356.82 C337.56,356.05 338.52,355.38 340.23,355.40 C341.95,355.42 343.12,355.84 344.52,356.90 C346.55,358.44 347.28,362.26 348.81,361.90 C350.72,361.46 351.05,355.74 353.10,354.90 C354.49,354.34 355.61,357.09 357.40,358.40 C359.05,359.61 360.88,362.45 361.69,361.20 C364.31,357.13 364.37,344.67 365.98,345.10 C367.80,345.59 367.84,360.15 370.27,363.50 C371.28,364.89 373.34,359.81 374.56,356.96 C376.77,351.81 376.22,347.71 378.86,343.50 C379.66,342.22 382.16,344.39 383.15,343.24 C385.59,340.39 385.55,333.99 387.44,333.50 C388.98,333.10 390.97,337.67 391.73,341.00 C394.40,352.69 394.65,373.44 396.02,371.04 C398.08,367.44 398.30,329.15 400.32,326.00 C401.74,323.78 401.58,346.46 404.61,357.60 C405.02,359.10 407.23,357.33 408.90,357.60 C410.66,357.89 412.09,357.73 413.19,359.00 C415.52,361.69 415.86,367.74 417.48,367.51 C419.29,367.26 419.35,360.29 421.78,357.80 C422.78,356.77 425.11,357.43 426.07,358.70 C428.55,362.00 428.60,369.11 430.36,369.23 C432.03,369.35 432.24,361.63 434.65,359.30 C435.67,358.31 437.66,359.73 438.94,360.93 C441.10,362.95 442.17,368.60 443.24,367.34 C445.60,364.55 444.78,356.07 447.53,350.80 C448.22,349.48 450.98,349.61 451.82,350.84 C454.41,354.65 454.02,362.10 456.11,363.38 C457.45,364.20 458.13,358.10 460.40,356.09 C461.56,355.07 463.92,354.55 464.70,355.80 C467.36,360.09 467.09,369.27 468.99,369.93 C470.52,370.47 471.11,360.22 473.28,358.80 C474.55,357.97 475.86,364.30 477.57,364.29 C479.29,364.28 479.76,359.83 481.86,358.75 C483.19,358.06 485.26,358.52 486.16,359.87 C488.69,363.69 488.70,371.58 490.45,371.67 C492.13,371.76 492.22,363.39 494.74,360.34 C495.65,359.24 497.31,361.28 499.03,361.30 C500.75,361.32 502.03,361.44 503.32,360.43 C505.46,358.76 505.51,356.40 507.62,354.60 C508.94,353.47 510.89,352.11 511.91,353.10 C514.32,355.45 514.70,363.53 516.20,362.96 C518.13,362.23 518.42,351.09 520.49,349.84 C521.85,349.03 523.19,358.08 524.78,357.80 C526.62,357.48 527.28,348.55 529.08,348.34 C530.71,348.15 531.72,353.38 533.37,356.80 C535.16,360.51 535.92,366.11 537.66,366.16 C539.36,366.20 539.96,357.78 541.95,357.05 C543.40,356.51 544.40,360.71 546.24,362.98 C547.83,364.94 549.01,367.98 550.54,367.62 C552.45,367.17 552.97,363.50 554.83,360.94 C556.40,358.78 557.99,354.77 559.12,355.80 C561.43,357.91 561.31,367.45 563.41,368.80 C564.74,369.65 566.22,360.78 567.70,361.30 C569.65,361.98 570.43,372.23 572.00,371.80 C573.87,371.29 574.16,360.35 576.29,358.94 C577.60,358.07 578.69,363.37 580.58,366.12 C582.12,368.37 583.58,372.22 584.87,371.44 C587.01,370.15 586.81,363.03 589.16,360.94 C590.24,359.99 592.17,362.28 593.46,363.84 C595.60,366.43 596.21,371.72 597.75,371.32 C599.64,370.83 600.32,365.50 602.04,361.62 L602.04,381.50 L87.00,381.50 Z" fill="#0073b7"/><path d="M87.00,361.40 C88.72,359.80 89.36,357.96 91.29,357.40 C92.79,356.96 93.87,358.90 95.58,358.90 C97.30,358.90 98.66,356.61 99.88,357.40 C102.09,358.83 102.65,361.52 104.17,364.44 C106.08,368.13 107.12,374.89 108.46,373.92 C110.56,372.40 110.11,363.75 112.75,358.20 C113.54,356.54 115.23,356.27 117.04,355.90 C118.66,355.57 120.23,355.36 121.34,356.46 C123.66,358.77 124.07,361.17 125.63,364.44 C127.50,368.36 128.14,374.24 129.92,374.42 C131.57,374.59 131.81,367.83 134.21,365.32 C135.24,364.25 137.48,364.35 138.50,365.46 C140.92,368.09 141.48,375.69 142.80,374.68 C144.91,373.06 144.95,365.06 147.09,358.90 C148.39,355.15 148.99,352.63 151.38,349.90 C152.43,348.71 154.76,347.99 155.67,349.10 C158.19,352.19 157.43,356.92 159.96,360.40 C160.87,361.64 163.39,359.63 164.26,360.90 C166.82,364.63 166.80,372.80 168.55,372.90 C170.23,373.00 170.96,361.90 172.84,361.40 C174.39,360.98 175.34,370.39 177.13,370.60 C178.77,370.79 179.10,364.89 181.42,362.40 C182.53,361.21 184.84,360.26 185.72,361.40 C188.28,364.75 188.30,373.67 190.01,373.63 C191.74,373.59 191.72,364.73 194.30,361.20 C195.15,360.03 197.25,360.97 198.59,361.90 C200.68,363.33 202.29,368.95 202.88,367.10 C205.72,358.35 205.50,335.09 207.18,335.40 C208.93,335.73 208.63,359.50 211.47,368.70 C212.06,370.61 214.02,365.38 215.76,363.19 C217.46,361.06 218.09,358.47 220.05,357.90 C221.53,357.47 223.23,359.07 224.34,360.70 C226.66,364.07 226.94,370.47 228.64,370.40 C230.38,370.33 230.47,363.45 232.93,360.37 C233.91,359.13 236.31,358.48 237.22,359.60 C239.74,362.70 239.68,370.56 241.51,370.90 C243.12,371.20 243.45,363.24 245.80,361.20 C246.88,360.27 248.62,363.88 250.10,363.45 C252.05,362.88 252.90,358.28 254.39,358.70 C256.33,359.25 256.95,363.03 258.68,365.90 C260.38,368.71 261.74,373.91 262.97,372.90 C265.17,371.11 264.75,363.93 267.26,358.90 C268.18,357.07 270.70,354.53 271.56,355.76 C274.13,359.45 273.86,370.12 275.85,371.20 C277.29,371.98 277.64,363.69 280.14,360.40 C281.07,359.17 283.62,358.69 284.43,359.90 C287.05,363.77 286.80,372.38 288.72,373.08 C290.24,373.63 291.30,367.05 293.02,363.03 C294.73,359.03 295.07,356.66 297.31,353.03 C298.50,351.09 300.61,347.97 301.60,349.10 C304.05,351.91 303.82,357.52 305.89,362.90 C307.25,366.43 309.04,372.69 310.18,371.36 C312.47,368.69 311.69,359.16 314.48,352.90 C315.12,351.46 317.95,350.91 318.77,352.10 C321.38,355.91 320.65,362.80 323.06,365.40 C324.08,366.50 325.39,362.50 327.35,361.36 C328.82,360.50 330.03,361.05 331.64,360.40 C333.47,359.67 334.10,358.54 335.94,357.90 C337.53,357.34 338.82,356.74 340.23,357.40 C342.25,358.34 343.00,359.95 344.52,361.90 C346.43,364.35 347.31,368.84 348.81,368.40 C350.74,367.84 351.46,359.21 353.10,359.40 C354.90,359.61 355.35,368.45 357.40,369.40 C358.78,370.05 360.68,366.13 361.69,363.40 C364.11,356.85 364.32,345.97 365.98,346.20 C367.75,346.45 367.87,361.38 370.27,364.60 C371.30,365.98 373.29,360.67 374.56,357.70 C376.72,352.67 376.24,348.75 378.86,344.60 C379.68,343.30 382.14,345.26 383.15,344.09 C385.57,341.26 385.56,335.04 387.44,334.60 C389.00,334.24 390.95,338.78 391.73,342.10 C394.38,353.37 394.65,373.49 396.02,371.10 C398.09,367.49 398.32,329.98 400.32,327.10 C401.75,325.02 401.58,347.56 404.61,358.70 C405.02,360.20 407.23,358.43 408.90,358.70 C410.66,358.99 412.05,358.85 413.19,360.10 C415.48,362.60 415.86,368.30 417.48,368.07 C419.30,367.82 419.37,361.26 421.78,358.90 C422.81,357.88 425.11,358.39 426.07,359.63 C428.54,362.83 428.59,369.83 430.36,369.99 C432.02,370.14 432.26,362.64 434.65,360.40 C435.69,359.43 437.64,360.79 438.94,361.95 C441.07,363.85 442.18,369.30 443.24,368.06 C445.61,365.28 444.80,357.04 447.53,351.90 C448.23,350.58 450.97,350.68 451.82,351.90 C454.41,355.62 454.03,363.05 456.11,364.25 C457.47,365.04 458.12,358.85 460.40,356.89 C461.55,355.91 463.91,355.64 464.70,356.90 C467.34,361.13 467.08,369.95 468.99,370.62 C470.52,371.15 471.12,361.26 473.28,359.90 C474.55,359.09 475.87,365.23 477.57,365.20 C479.31,365.16 479.76,360.82 481.86,359.73 C483.20,359.04 485.26,359.42 486.16,360.75 C488.70,364.54 488.69,372.41 490.45,372.55 C492.12,372.67 492.23,364.37 494.74,361.40 C495.67,360.31 497.31,362.39 499.03,362.40 C500.75,362.41 502.03,362.48 503.32,361.45 C505.47,359.75 505.49,357.36 507.62,355.57 C508.93,354.46 510.88,353.21 511.91,354.20 C514.32,356.54 514.70,364.47 516.20,363.90 C518.13,363.15 518.43,352.10 520.49,350.90 C521.86,350.10 523.19,359.18 524.78,358.90 C526.62,358.58 527.28,349.61 529.08,349.40 C530.72,349.21 531.69,354.48 533.37,357.90 C535.13,361.49 535.93,366.91 537.66,366.94 C539.37,366.96 539.97,358.75 541.95,358.03 C543.40,357.51 544.43,361.59 546.24,363.82 C547.86,365.81 549.00,368.91 550.54,368.58 C552.43,368.17 552.98,364.51 554.83,361.96 C556.42,359.76 557.98,355.67 559.12,356.70 C561.42,358.77 561.29,368.29 563.41,369.70 C564.72,370.57 566.24,361.85 567.70,362.40 C569.67,363.13 570.44,373.34 572.00,372.90 C573.87,372.37 574.16,361.41 576.29,359.96 C577.59,359.08 578.70,364.34 580.58,367.08 C582.14,369.34 583.58,373.23 584.87,372.46 C587.01,371.19 586.78,364.15 589.16,361.96 C590.22,360.99 592.22,363.06 593.46,364.56 C595.65,367.23 596.19,372.76 597.75,372.40 C599.62,371.97 600.32,366.51 602.04,362.58 L602.04,381.50 L87.00,381.50 Z" fill="#f39c12"/><path d="M87.00,363.50 C88.72,361.90 89.36,360.06 91.29,359.50 C92.79,359.06 93.87,361.00 95.58,361.00 C97.30,361.00 98.61,358.76 99.88,359.50 C102.04,360.76 102.66,363.28 104.17,366.00 C106.10,369.48 107.12,375.94 108.46,375.00 C110.55,373.54 110.12,365.22 112.75,360.00 C113.55,358.42 115.25,358.31 117.04,358.00 C118.68,357.71 120.19,357.43 121.34,358.50 C123.62,360.63 124.07,362.92 125.63,366.00 C127.51,369.72 128.13,375.29 129.92,375.50 C131.56,375.69 131.85,369.20 134.21,367.00 C135.28,366.00 137.43,366.38 138.50,367.50 C140.87,369.98 141.49,376.99 142.80,376.00 C144.93,374.39 144.99,366.86 147.09,361.00 C148.43,357.26 148.99,354.73 151.38,352.00 C152.43,350.81 154.76,350.09 155.67,351.20 C158.19,354.29 157.43,359.02 159.96,362.50 C160.87,363.74 163.39,361.73 164.26,363.00 C166.82,366.73 166.80,374.90 168.55,375.00 C170.23,375.10 170.96,364.00 172.84,363.50 C174.39,363.08 175.34,372.49 177.13,372.70 C178.77,372.89 179.10,366.99 181.42,364.50 C182.53,363.31 184.83,362.37 185.72,363.50 C188.27,366.77 188.30,375.54 190.01,375.50 C191.74,375.46 191.73,366.74 194.30,363.30 C195.16,362.14 197.25,363.07 198.59,364.00 C200.68,365.43 202.29,371.05 202.88,369.20 C205.72,360.45 205.50,337.19 207.18,337.50 C208.93,337.83 208.69,362.15 211.47,370.80 C212.12,372.83 213.81,366.65 215.76,364.20 C217.25,362.33 218.20,360.30 220.05,360.00 C221.63,359.74 223.23,361.17 224.34,362.80 C226.66,366.17 226.98,372.65 228.64,372.50 C230.41,372.33 230.44,365.13 232.93,362.00 C233.87,360.81 236.32,360.54 237.22,361.70 C239.75,364.94 239.68,372.66 241.51,373.00 C243.12,373.30 243.44,365.36 245.80,363.30 C246.88,362.36 248.62,365.93 250.10,365.50 C252.05,364.93 252.91,360.37 254.39,360.80 C256.34,361.37 256.95,365.13 258.68,368.00 C260.38,370.81 261.74,376.01 262.97,375.00 C265.17,373.21 264.75,366.04 267.26,361.00 C268.18,359.16 270.70,356.57 271.56,357.80 C274.13,361.49 273.85,372.21 275.85,373.30 C277.29,374.09 277.64,365.79 280.14,362.50 C281.07,361.27 283.61,360.80 284.43,362.00 C287.04,365.80 286.81,374.33 288.72,375.00 C290.24,375.53 291.30,369.00 293.02,365.00 C294.73,361.00 295.06,358.62 297.31,355.00 C298.49,353.10 300.62,350.06 301.60,351.20 C304.06,354.06 303.81,359.63 305.89,365.00 C307.24,368.47 309.04,374.63 310.18,373.30 C312.48,370.63 311.69,361.20 314.48,355.00 C315.12,353.56 317.95,353.01 318.77,354.20 C321.38,358.01 320.66,364.95 323.06,367.50 C324.09,368.59 325.38,364.52 327.35,363.30 C328.81,362.40 330.00,362.83 331.64,362.20 C333.43,361.51 334.12,360.57 335.94,360.00 C337.56,359.49 338.82,358.84 340.23,359.50 C342.25,360.44 343.00,362.05 344.52,364.00 C346.43,366.45 347.31,370.94 348.81,370.50 C350.74,369.94 351.46,361.31 353.10,361.50 C354.90,361.71 355.35,370.55 357.40,371.50 C358.78,372.15 360.68,368.23 361.69,365.50 C364.11,358.95 364.32,348.07 365.98,348.30 C367.75,348.55 367.92,363.71 370.27,366.70 C371.35,368.07 373.21,362.36 374.56,359.20 C376.64,354.36 376.28,350.72 378.86,346.70 C379.71,345.36 382.11,347.01 383.15,345.80 C385.54,343.01 385.59,337.04 387.44,336.70 C389.03,336.40 390.91,340.89 391.73,344.20 C394.34,354.69 394.67,373.57 396.02,371.21 C398.11,367.57 398.36,331.57 400.32,329.20 C401.79,327.41 401.58,349.66 404.61,360.80 C405.02,362.30 407.23,360.53 408.90,360.80 C410.66,361.09 411.97,361.01 413.19,362.20 C415.41,364.37 415.87,369.43 417.48,369.20 C419.30,368.95 419.44,363.10 421.78,361.00 C422.87,360.02 425.09,360.31 426.07,361.50 C428.53,364.51 428.57,371.29 430.36,371.50 C432.00,371.69 432.29,364.56 434.65,362.50 C435.73,361.56 437.59,362.90 438.94,364.00 C441.02,365.70 442.20,370.71 443.24,369.50 C445.63,366.71 444.82,358.89 447.53,354.00 C448.25,352.69 450.95,352.79 451.82,354.00 C454.39,357.59 454.07,364.93 456.11,366.00 C457.50,366.73 458.12,360.37 460.40,358.50 C461.55,357.57 463.87,357.70 464.70,359.00 C467.31,363.10 467.08,371.33 468.99,372.00 C470.51,372.53 471.14,363.25 473.28,362.00 C474.57,361.25 475.88,367.06 477.57,367.00 C479.32,366.94 479.77,362.80 481.86,361.70 C483.20,361.00 485.27,361.20 486.16,362.50 C488.70,366.24 488.66,374.09 490.45,374.30 C492.10,374.49 492.25,366.34 494.74,363.50 C495.68,362.42 497.32,364.50 499.03,364.50 C500.75,364.50 502.04,364.55 503.32,363.50 C505.47,361.75 505.48,359.30 507.62,357.50 C508.91,356.42 510.88,355.31 511.91,356.30 C514.31,358.61 514.70,366.34 516.20,365.76 C518.14,365.02 518.44,354.14 520.49,353.00 C521.87,352.23 523.19,361.28 524.78,361.00 C526.62,360.68 527.28,351.71 529.08,351.50 C530.72,351.31 531.65,356.60 533.37,360.00 C535.08,363.40 535.94,368.50 537.66,368.50 C539.38,368.50 539.97,360.69 541.95,360.00 C543.40,359.49 544.48,363.34 546.24,365.50 C547.91,367.54 548.96,370.77 550.54,370.50 C552.40,370.17 553.02,366.53 554.83,364.00 C556.45,361.73 557.96,357.49 559.12,358.50 C561.39,360.49 561.27,370.00 563.41,371.50 C564.70,372.40 566.26,363.91 567.70,364.50 C569.70,365.31 570.44,375.45 572.00,375.00 C573.87,374.45 574.14,363.50 576.29,362.00 C577.58,361.10 578.72,366.30 580.58,369.00 C582.16,371.30 583.56,375.26 584.87,374.50 C587.00,373.26 586.74,366.40 589.16,364.00 C590.18,363.00 592.32,364.61 593.46,366.00 C595.75,368.81 596.15,374.78 597.75,374.50 C599.58,374.18 600.32,368.50 602.04,364.50 L602.04,381.50 L87.00,381.50 Z" fill="#00c0ef"/><path d="M87.00,378.15 C88.72,375.32 89.62,373.93 91.29,371.07 C93.05,368.07 93.96,363.29 95.58,363.50 C97.39,363.73 97.79,368.95 99.88,372.16 C101.23,374.24 102.13,375.57 104.17,376.74 C105.56,377.54 107.09,377.79 108.46,377.06 C110.53,375.96 111.56,374.43 112.75,372.16 C114.99,367.89 115.25,360.93 117.04,360.70 C118.69,360.49 119.41,367.03 121.34,371.07 C122.84,374.23 123.32,376.65 125.63,378.70 C126.76,379.70 128.20,378.70 129.92,378.70 C131.64,378.70 132.50,378.70 134.21,378.70 C135.93,378.70 136.79,378.77 138.50,378.70 C140.22,378.63 141.10,378.65 142.80,378.37 C144.54,378.09 146.27,378.67 147.09,377.28 C149.71,372.81 149.43,369.05 151.38,363.70 C152.87,359.61 154.44,352.41 155.67,353.70 C157.88,356.01 157.31,365.65 159.96,372.70 C160.75,374.78 162.30,375.48 164.26,376.52 C165.74,377.31 166.82,377.02 168.55,377.28 C170.26,377.54 171.12,377.83 172.84,377.83 C174.56,377.83 175.42,377.50 177.13,377.28 C178.85,377.06 179.74,377.10 181.42,376.74 C183.17,376.36 184.03,375.32 185.72,375.43 C187.47,375.54 188.22,377.01 190.01,377.28 C191.66,377.53 192.58,376.93 194.30,376.74 C196.01,376.54 197.18,377.11 198.59,376.30 C200.62,375.15 202.14,374.13 202.88,371.83 C205.58,363.49 205.49,349.53 207.18,349.70 C208.92,349.88 208.61,364.42 211.47,372.70 C212.04,374.36 213.99,374.00 215.76,374.56 C217.42,375.09 218.32,375.25 220.05,375.43 C221.75,375.60 222.64,375.60 224.34,375.43 C226.08,375.25 226.98,375.09 228.64,374.56 C230.41,374.00 231.16,372.86 232.93,372.70 C234.60,372.56 235.69,372.98 237.22,373.80 C239.13,374.81 239.59,376.62 241.51,377.28 C243.02,377.80 244.60,377.76 245.80,376.74 C248.03,374.84 248.38,369.98 250.10,369.98 C251.81,369.98 252.18,374.72 254.39,376.74 C255.61,377.86 256.96,377.83 258.68,377.83 C260.40,377.83 261.27,377.21 262.97,376.74 C264.70,376.26 265.99,376.56 267.26,375.43 C269.43,373.51 270.00,368.77 271.56,369.11 C273.43,369.51 273.51,374.91 275.85,377.28 C276.94,378.40 278.42,377.72 280.14,377.83 C281.85,377.94 282.72,377.94 284.43,377.83 C286.16,377.72 287.01,377.50 288.72,377.28 C290.44,377.06 292.26,378.08 293.02,376.74 C295.69,371.97 295.24,367.76 297.31,362.00 C298.67,358.19 300.52,351.22 301.60,352.80 C303.96,356.25 303.10,366.59 305.89,374.56 C306.53,376.38 309.09,378.21 310.18,377.28 C312.53,375.29 312.01,370.22 314.48,367.25 C315.45,366.08 317.82,365.82 318.77,366.93 C321.25,369.83 320.94,376.07 323.06,377.28 C324.37,378.03 325.25,373.41 327.35,371.83 C328.69,370.83 330.55,372.04 331.64,370.85 C333.98,368.31 334.30,362.31 335.94,362.50 C337.73,362.71 338.11,368.37 340.23,371.83 C341.54,373.98 342.61,376.08 344.52,376.52 C346.05,376.87 346.96,374.27 348.81,373.80 C350.39,373.39 351.38,374.23 353.10,374.34 C354.81,374.45 355.82,373.84 357.40,374.34 C359.26,374.93 360.88,378.31 361.69,377.06 C364.31,373.05 363.96,362.43 365.98,361.20 C367.39,360.34 367.83,368.31 370.27,371.83 C371.26,373.26 373.88,374.89 374.56,373.58 C377.32,368.27 376.50,362.36 378.86,355.30 C379.94,352.05 380.85,349.80 383.15,347.80 C384.29,346.80 386.09,347.01 387.44,347.80 C389.52,349.01 390.86,350.38 391.73,352.80 C394.29,359.90 394.70,373.41 396.02,371.62 C398.13,368.77 398.29,343.47 400.32,341.20 C401.72,339.63 402.44,353.81 404.61,362.00 C405.87,366.76 406.36,369.99 408.90,373.58 C409.79,374.84 411.48,373.86 413.19,374.12 C414.92,374.38 415.75,374.73 417.48,374.88 C419.19,375.04 420.07,374.78 421.78,374.88 C423.50,374.99 424.35,375.26 426.07,375.43 C427.78,375.60 428.70,376.01 430.36,375.76 C432.13,375.49 433.01,373.93 434.65,374.12 C436.45,374.33 437.36,377.00 438.94,376.74 C440.80,376.43 441.66,374.45 443.24,372.70 C445.09,370.65 445.41,368.68 447.53,367.25 C448.84,366.37 450.28,366.44 451.82,366.93 C453.71,367.53 454.36,368.80 456.11,369.98 C457.80,371.12 458.54,372.11 460.40,372.70 C461.98,373.20 463.12,372.21 464.70,372.70 C466.56,373.30 467.16,375.13 468.99,375.43 C470.60,375.70 471.72,374.95 473.28,374.12 C475.15,373.12 475.80,370.96 477.57,370.85 C479.24,370.75 480.08,372.62 481.86,373.58 C483.51,374.45 484.37,374.93 486.16,375.43 C487.81,375.89 488.73,375.98 490.45,375.98 C492.16,375.98 493.02,375.54 494.74,375.43 C496.45,375.32 497.94,376.47 499.03,375.43 C501.38,373.20 501.21,368.33 503.32,367.25 C504.64,366.59 505.79,370.84 507.62,371.07 C509.23,371.27 510.14,369.35 511.91,368.35 C513.58,367.39 514.40,366.80 516.20,366.17 C517.84,365.58 518.76,365.47 520.49,365.29 C522.19,365.12 523.11,365.02 524.78,365.29 C526.55,365.58 527.62,365.73 529.08,366.71 C531.05,368.04 531.41,369.70 533.37,371.07 C534.84,372.10 535.89,372.48 537.66,372.70 C539.33,372.92 540.33,371.85 541.95,372.16 C543.76,372.50 544.45,373.70 546.24,374.34 C547.88,374.92 548.88,375.42 550.54,375.21 C552.32,374.99 553.11,374.03 554.83,373.25 C556.54,372.47 557.76,370.68 559.12,371.29 C561.19,372.21 561.30,375.32 563.41,377.06 C564.73,378.15 565.95,378.04 567.70,378.37 C569.39,378.69 570.28,378.63 572.00,378.70 C573.71,378.77 574.57,378.70 576.29,378.70 C578.00,378.70 578.86,378.70 580.58,378.70 C582.30,378.70 583.16,378.70 584.87,378.70 C586.59,378.70 587.45,378.70 589.16,378.70 C590.88,378.70 591.74,378.70 593.46,378.70 C595.17,378.70 596.03,378.70 597.75,378.70 C599.46,378.70 600.32,378.70 602.04,378.70 L602.04,381.50 L87.00,381.50 Z" fill="#00a65a"/><path d="M87.00,381.00 C88.72,378.40 89.62,377.13 91.29,374.50 C93.05,371.73 93.95,367.31 95.58,367.50 C97.39,367.71 97.81,372.56 99.88,375.50 C101.24,377.44 102.17,378.65 104.17,379.70 C105.60,380.45 107.06,380.69 108.46,380.00 C110.49,379.01 111.56,377.63 112.75,375.50 C114.99,371.51 115.26,364.91 117.04,364.70 C118.69,364.51 119.39,370.70 121.34,374.50 C122.83,377.42 123.37,379.66 125.63,381.50 C126.81,382.46 128.20,381.50 129.92,381.50 C131.64,381.50 132.50,381.50 134.21,381.50 C135.93,381.50 136.79,381.56 138.50,381.50 C140.22,381.44 141.10,381.46 142.80,381.20 C144.53,380.94 146.23,381.55 147.09,380.20 C149.66,376.15 149.50,372.64 151.38,367.70 C152.93,363.64 154.41,356.48 155.67,357.70 C157.85,359.80 157.31,369.26 159.96,376.00 C160.75,377.98 162.33,378.56 164.26,379.50 C165.77,380.24 166.83,379.96 168.55,380.20 C170.26,380.44 171.12,380.70 172.84,380.70 C174.56,380.70 175.42,380.40 177.13,380.20 C178.85,380.00 179.73,380.03 181.42,379.70 C183.17,379.35 184.03,378.40 185.72,378.50 C187.46,378.60 188.23,379.95 190.01,380.20 C191.67,380.43 192.58,379.88 194.30,379.70 C196.01,379.52 197.15,380.06 198.59,379.30 C200.58,378.26 202.15,377.38 202.88,375.20 C205.59,367.14 205.49,353.54 207.18,353.70 C208.92,353.86 208.61,368.02 211.47,376.00 C212.05,377.62 214.00,377.19 215.76,377.70 C217.43,378.19 218.32,378.34 220.05,378.50 C221.75,378.66 222.64,378.66 224.34,378.50 C226.08,378.34 226.97,378.19 228.64,377.70 C230.40,377.19 231.17,376.14 232.93,376.00 C234.60,375.86 235.67,376.24 237.22,377.00 C239.10,377.92 239.61,379.60 241.51,380.20 C243.05,380.68 244.55,380.68 245.80,379.70 C247.99,378.00 248.38,373.50 250.10,373.50 C251.81,373.50 252.22,377.88 254.39,379.70 C255.65,380.76 256.96,380.70 258.68,380.70 C260.40,380.70 261.26,380.14 262.97,379.70 C264.70,379.26 265.95,379.57 267.26,378.50 C269.39,376.77 269.99,372.39 271.56,372.70 C273.43,373.07 273.56,378.07 275.85,380.20 C276.99,381.27 278.42,380.60 280.14,380.70 C281.85,380.80 282.72,380.80 284.43,380.70 C286.15,380.60 287.01,380.40 288.72,380.20 C290.44,380.00 292.22,381.01 293.02,379.70 C295.66,375.33 295.30,371.37 297.31,366.00 C298.73,362.21 300.49,355.29 301.60,356.80 C303.93,359.97 303.11,370.11 305.89,377.70 C306.54,379.47 309.06,381.08 310.18,380.20 C312.49,378.40 312.06,373.67 314.48,371.00 C315.50,369.87 317.76,369.62 318.77,370.70 C321.20,373.30 320.96,379.10 323.06,380.20 C324.39,380.90 325.29,376.62 327.35,375.20 C328.72,374.26 330.51,375.45 331.64,374.30 C333.94,371.97 334.29,366.33 335.94,366.50 C337.73,366.69 338.12,372.00 340.23,375.20 C341.55,377.20 342.63,379.10 344.52,379.50 C346.06,379.82 346.98,377.43 348.81,377.00 C350.41,376.63 351.38,377.40 353.10,377.50 C354.82,377.60 355.80,377.04 357.40,377.50 C359.24,378.04 360.85,381.20 361.69,380.00 C364.28,376.28 363.97,366.33 365.98,365.20 C367.40,364.41 367.86,371.93 370.27,375.20 C371.29,376.57 373.87,378.09 374.56,376.80 C377.30,371.73 376.54,366.06 378.86,359.30 C379.97,356.06 380.85,353.80 383.15,351.80 C384.29,350.80 386.09,351.01 387.44,351.80 C389.52,353.01 390.84,354.38 391.73,356.80 C394.27,363.66 394.71,376.78 396.02,375.00 C398.14,372.14 398.30,347.31 400.32,345.20 C401.74,343.71 402.39,357.83 404.61,366.00 C405.82,370.47 406.40,373.51 408.90,376.80 C409.83,378.03 411.48,377.06 413.19,377.30 C414.91,377.54 415.76,377.86 417.48,378.00 C419.19,378.14 420.06,377.90 421.78,378.00 C423.50,378.10 424.35,378.34 426.07,378.50 C427.78,378.66 428.69,379.03 430.36,378.80 C432.12,378.55 433.00,377.13 434.65,377.30 C436.44,377.49 437.35,379.94 438.94,379.70 C440.78,379.42 441.65,377.61 443.24,376.00 C445.08,374.13 445.45,372.28 447.53,371.00 C448.88,370.16 450.25,370.24 451.82,370.70 C453.69,371.24 454.37,372.42 456.11,373.50 C457.80,374.54 458.56,375.46 460.40,376.00 C462.00,376.46 463.10,375.54 464.70,376.00 C466.54,376.54 467.18,378.23 468.99,378.50 C470.61,378.75 471.70,378.07 473.28,377.30 C475.13,376.39 475.81,374.40 477.57,374.30 C479.24,374.20 480.08,375.93 481.86,376.80 C483.52,377.61 484.38,378.05 486.16,378.50 C487.82,378.93 488.73,379.00 490.45,379.00 C492.16,379.00 493.02,378.60 494.74,378.50 C496.45,378.40 497.89,379.50 499.03,378.50 C501.33,376.50 501.23,371.98 503.32,371.00 C504.67,370.38 505.81,374.29 507.62,374.50 C509.24,374.69 510.15,372.92 511.91,372.00 C513.58,371.12 514.41,370.58 516.20,370.00 C517.85,369.46 518.76,369.36 520.49,369.20 C522.19,369.04 523.10,368.95 524.78,369.20 C526.54,369.47 527.59,369.58 529.08,370.50 C531.02,371.70 531.43,373.26 533.37,374.50 C534.87,375.46 535.90,375.79 537.66,376.00 C539.33,376.19 540.31,375.21 541.95,375.50 C543.75,375.81 544.46,376.92 546.24,377.50 C547.89,378.04 548.87,378.49 550.54,378.30 C552.31,378.09 553.11,377.22 554.83,376.50 C556.54,375.78 557.73,374.13 559.12,374.70 C561.16,375.53 561.34,378.43 563.41,380.00 C564.77,381.03 565.96,380.89 567.70,381.20 C569.39,381.49 570.28,381.44 572.00,381.50 C573.71,381.56 574.57,381.50 576.29,381.50 C578.00,381.50 578.86,381.50 580.58,381.50 C582.30,381.50 583.16,381.50 584.87,381.50 C586.59,381.50 587.45,381.50 589.16,381.50 C590.88,381.50 591.74,381.50 593.46,381.50 C595.17,381.50 596.03,381.50 597.75,381.50 C599.46,381.50 600.32,381.50 602.04,381.50 L602.04,381.50 L87.00,381.50 Z" fill="#f56954"/></g><g font-family="Liberation Sans, sans-serif" font-size="8.1" fill="#6c6c6c"><text font-size="7.5" transform="translate(80.2,383.40) scale(1,1.17)" text-anchor="end">0</text><text font-size="7.5" transform="translate(80.2,365.74) scale(1,1.17)" text-anchor="end">100</text><text font-size="7.5" transform="translate(80.2,348.08) scale(1,1.17)" text-anchor="end">200</text><text font-size="7.5" transform="translate(80.2,330.42) scale(1,1.17)" text-anchor="end">300</text><text font-size="7.5" transform="translate(80.2,312.76) scale(1,1.17)" text-anchor="end">400</text><text font-size="7.5" transform="translate(80.2,295.10) scale(1,1.17)" text-anchor="end">500</text><text font-size="7.8" transform="translate(136.45,393.90) scale(1,1.16)" text-anchor="middle">15:00</text><text font-size="7.8" transform="translate(188.05,393.90) scale(1,1.16)" text-anchor="middle">17:00</text><text font-size="7.8" transform="translate(239.65,393.90) scale(1,1.16)" text-anchor="middle">19:00</text><text font-size="7.8" transform="translate(291.25,393.90) scale(1,1.16)" text-anchor="middle">21:00</text><text font-size="7.8" transform="translate(342.85,393.90) scale(1,1.16)" text-anchor="middle">23:00</text><text font-size="7.8" transform="translate(394.45,393.90) scale(1,1.16)" text-anchor="middle">01:00</text><text font-size="7.8" transform="translate(446.05,393.90) scale(1,1.16)" text-anchor="middle">03:00</text><text font-size="7.8" transform="translate(497.65,393.90) scale(1,1.16)" text-anchor="middle">05:00</text><text font-size="7.8" transform="translate(549.25,393.90) scale(1,1.16)" text-anchor="middle">07:00</text><text font-size="7.8" transform="translate(600.85,393.90) scale(1,1.16)" text-anchor="middle">09:00</text></g></svg>
</body>
</html>
